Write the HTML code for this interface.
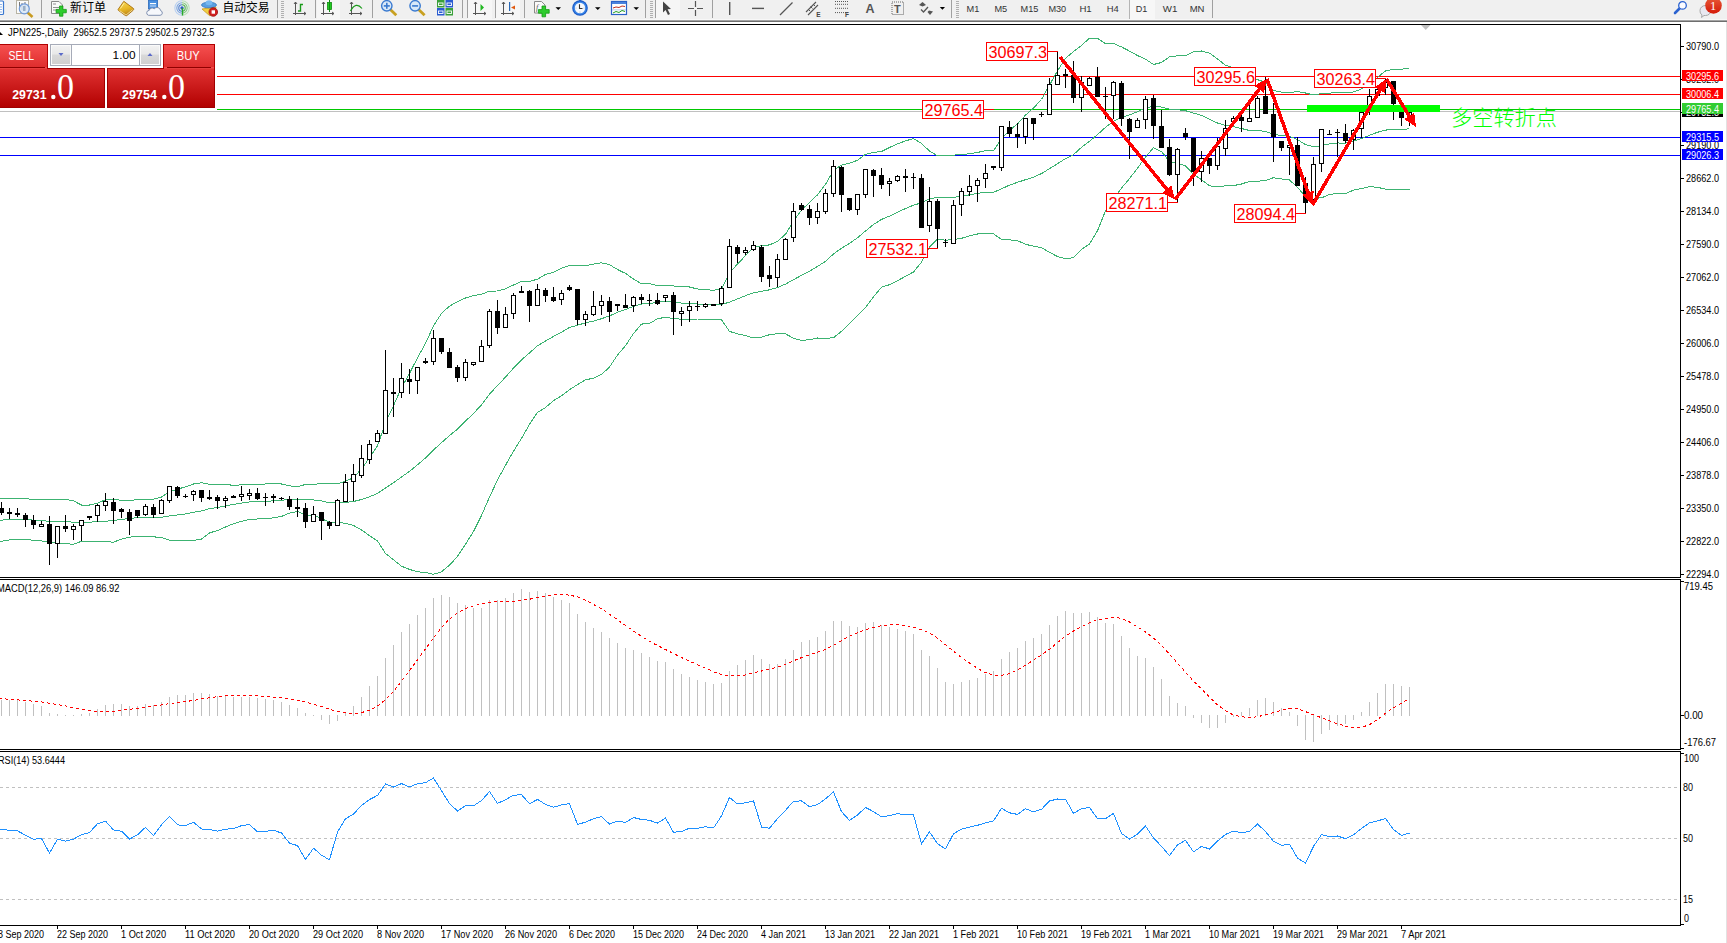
<!DOCTYPE html>
<html><head><meta charset="utf-8"><title>JPN225 Daily</title>
<style>html,body{margin:0;padding:0;background:#fff;overflow:hidden}svg{display:block}text{white-space:pre}</style>
</head><body>
<svg width="1727" height="943" viewBox="0 0 1727 943">
<defs><linearGradient id="gtop" x1="0" y1="0" x2="0" y2="1"><stop offset="0" stop-color="#f65050"/><stop offset="1" stop-color="#dc2a2a"/></linearGradient><linearGradient id="gbot" x1="0" y1="0" x2="0" y2="1"><stop offset="0" stop-color="#e03232"/><stop offset="1" stop-color="#b20000"/></linearGradient><linearGradient id="gbtn" x1="0" y1="0" x2="0" y2="1"><stop offset="0" stop-color="#f2f2f2"/><stop offset="0.45" stop-color="#e8e8e8"/><stop offset="0.5" stop-color="#d9d9d9"/><stop offset="1" stop-color="#d0d0d0"/></linearGradient></defs>
<rect x="0" y="0" width="1727" height="943" fill="#fff"/>
<g shape-rendering="crispEdges">
<rect x="217" y="76" width="1463" height="1" fill="#ff0000"/>
<rect x="217" y="94" width="1463" height="1" fill="#ff0000"/>
<rect x="217" y="109" width="1463" height="1" fill="#00c800"/>
<rect x="0" y="111" width="1680" height="1" fill="#c0c0c0"/>
<rect x="0" y="137" width="1680" height="1" fill="#0000ff"/>
<rect x="0" y="155" width="1680" height="1" fill="#0000ff"/>
<polyline points="-6.5,498.4 1.5,498.5 9.5,498.6 17.5,498.7 25.5,498.8 33.5,499.3 41.5,499.5 49.5,499.1 57.5,499.2 65.5,499.3 73.5,500.9 81.5,505.0 89.5,505.0 97.5,503.1 105.5,499.8 113.5,499.8 121.5,500.1 129.5,500.3 137.5,499.8 145.5,499.2 153.5,499.2 161.5,497.1 169.5,491.6 177.5,489.1 185.5,486.9 193.5,484.0 201.5,482.7 209.5,484.4 217.5,484.3 225.5,484.7 233.5,485.2 241.5,484.9 249.5,484.5 257.5,484.2 265.5,484.0 273.5,483.8 281.5,484.0 289.5,485.8 297.5,486.8 305.5,484.4 313.5,484.6 321.5,483.1 329.5,483.4 337.5,483.9 345.5,481.3 353.5,477.6 361.5,469.0 369.5,457.9 377.5,445.7 385.5,422.6 393.5,405.7 401.5,387.7 409.5,373.4 417.5,357.8 425.5,343.5 433.5,325.7 441.5,313.4 449.5,306.1 457.5,301.7 465.5,298.0 473.5,295.6 481.5,294.3 489.5,291.1 497.5,291.0 505.5,288.8 513.5,285.0 521.5,281.4 529.5,281.4 537.5,279.2 545.5,274.5 553.5,272.2 561.5,268.3 569.5,265.4 577.5,265.7 585.5,265.7 593.5,264.1 601.5,262.8 609.5,264.7 617.5,269.5 625.5,273.4 633.5,279.1 641.5,283.8 649.5,283.5 657.5,285.8 665.5,285.5 673.5,285.9 681.5,286.9 689.5,287.0 697.5,289.0 705.5,289.8 713.5,290.2 721.5,289.0 729.5,273.1 737.5,264.0 745.5,255.7 753.5,247.4 761.5,245.8 769.5,244.9 777.5,241.3 785.5,234.3 793.5,221.1 801.5,210.1 809.5,202.4 817.5,194.9 825.5,184.3 833.5,170.4 841.5,165.1 849.5,163.2 857.5,160.3 865.5,154.3 873.5,152.4 881.5,151.5 889.5,147.5 897.5,143.8 905.5,140.9 913.5,138.5 921.5,143.5 929.5,151.0 937.5,155.7 945.5,155.1 953.5,155.1 961.5,154.5 969.5,153.8 977.5,152.5 985.5,150.6 993.5,150.9 1001.5,138.4 1009.5,130.3 1017.5,123.9 1025.5,115.1 1033.5,108.0 1041.5,99.5 1049.5,85.1 1057.5,70.8 1065.5,58.4 1073.5,51.5 1081.5,45.4 1089.5,38.2 1097.5,38.4 1105.5,43.7 1113.5,43.5 1121.5,46.9 1129.5,51.1 1137.5,55.5 1145.5,59.2 1153.5,64.5 1161.5,62.5 1169.5,56.8 1177.5,55.8 1185.5,55.6 1193.5,51.9 1201.5,51.0 1209.5,53.1 1217.5,58.9 1225.5,65.3 1233.5,67.6 1241.5,73.0 1249.5,79.6 1257.5,79.7 1265.5,82.3 1273.5,90.5 1281.5,92.1 1289.5,92.6 1297.5,91.6 1305.5,93.0 1313.5,95.0 1321.5,93.6 1329.5,93.2 1337.5,92.3 1345.5,92.5 1353.5,92.0 1361.5,88.9 1369.5,83.7 1377.5,77.4 1385.5,70.9 1393.5,69.4 1401.5,69.1 1409.5,68.5" fill="none" stroke="#3cb371" stroke-width="1" />
<polyline points="-6.5,521.0 1.5,520.2 9.5,519.4 17.5,519.2 25.5,519.6 33.5,520.1 41.5,520.7 49.5,521.3 57.5,521.6 65.5,521.8 73.5,522.1 81.5,522.5 89.5,522.1 97.5,521.8 105.5,521.2 113.5,520.5 121.5,519.5 129.5,518.5 137.5,517.6 145.5,517.1 153.5,518.0 161.5,517.3 169.5,516.0 177.5,515.0 185.5,513.9 193.5,512.2 201.5,510.9 209.5,508.7 217.5,507.4 225.5,505.9 233.5,504.4 241.5,503.1 249.5,501.9 257.5,501.6 265.5,501.4 273.5,500.8 281.5,500.2 289.5,499.5 297.5,499.1 305.5,499.9 313.5,499.9 321.5,500.9 329.5,502.8 337.5,503.1 345.5,502.4 353.5,501.5 361.5,499.5 369.5,496.8 377.5,493.4 385.5,488.0 393.5,482.8 401.5,477.0 409.5,471.4 417.5,464.8 425.5,458.0 433.5,450.0 441.5,442.6 449.5,435.6 457.5,429.1 465.5,421.1 473.5,413.5 481.5,404.8 489.5,394.1 497.5,385.5 505.5,377.1 513.5,368.1 521.5,359.8 529.5,352.9 537.5,345.7 545.5,341.0 553.5,336.4 561.5,332.1 569.5,327.5 577.5,325.2 585.5,322.8 593.5,321.2 601.5,318.7 609.5,315.9 617.5,312.3 625.5,309.6 633.5,306.3 641.5,304.0 649.5,303.5 657.5,302.3 665.5,301.3 673.5,302.2 681.5,303.1 689.5,303.2 697.5,304.0 705.5,304.4 713.5,304.6 721.5,304.4 729.5,302.2 737.5,298.9 745.5,295.7 753.5,292.7 761.5,291.4 769.5,289.8 777.5,287.5 785.5,284.1 793.5,279.7 801.5,275.3 809.5,271.1 817.5,266.5 825.5,261.3 833.5,254.0 841.5,248.2 849.5,243.4 857.5,237.8 865.5,231.0 873.5,224.5 881.5,219.4 889.5,216.1 897.5,212.2 905.5,208.6 913.5,205.2 921.5,202.8 929.5,198.9 937.5,197.4 945.5,197.6 953.5,197.3 961.5,196.4 969.5,194.8 977.5,193.3 985.5,192.3 993.5,192.3 1001.5,188.9 1009.5,185.1 1017.5,182.3 1025.5,179.7 1033.5,177.1 1041.5,173.6 1049.5,168.7 1057.5,163.7 1065.5,158.6 1073.5,154.6 1081.5,147.3 1089.5,141.2 1097.5,134.6 1105.5,127.3 1113.5,121.1 1121.5,117.5 1129.5,114.8 1137.5,111.8 1145.5,108.1 1153.5,106.0 1161.5,107.1 1169.5,109.1 1177.5,109.7 1185.5,110.7 1193.5,113.1 1201.5,115.3 1209.5,119.4 1217.5,123.0 1225.5,125.6 1233.5,126.6 1241.5,128.5 1249.5,130.5 1257.5,130.5 1265.5,131.4 1273.5,134.1 1281.5,135.6 1289.5,136.3 1297.5,139.5 1305.5,144.7 1313.5,146.6 1321.5,145.7 1329.5,143.8 1337.5,143.0 1345.5,143.1 1353.5,141.0 1361.5,138.7 1369.5,135.2 1377.5,132.3 1385.5,130.1 1393.5,129.4 1401.5,129.2 1409.5,128.9" fill="none" stroke="#3cb371" stroke-width="1" />
<polyline points="-6.5,542.7 1.5,541.3 9.5,540.0 17.5,539.8 25.5,539.8 33.5,540.1 41.5,541.0 49.5,541.9 57.5,542.7 65.5,543.9 73.5,544.1 81.5,541.3 89.5,541.4 97.5,541.5 105.5,541.8 113.5,542.1 121.5,539.2 129.5,537.2 137.5,536.4 145.5,536.6 153.5,536.8 161.5,537.6 169.5,540.3 177.5,540.9 185.5,540.8 193.5,540.4 201.5,539.1 209.5,532.9 217.5,530.5 225.5,527.0 233.5,523.7 241.5,521.4 249.5,519.3 257.5,519.0 265.5,518.9 273.5,517.8 281.5,516.4 289.5,513.1 297.5,511.4 305.5,515.4 313.5,515.1 321.5,518.6 329.5,522.3 337.5,522.3 345.5,523.4 353.5,525.5 361.5,530.0 369.5,535.6 377.5,541.0 385.5,553.4 393.5,559.8 401.5,566.2 409.5,569.4 417.5,571.8 425.5,572.5 433.5,574.3 441.5,571.8 449.5,565.2 457.5,556.4 465.5,544.2 473.5,531.5 481.5,515.4 489.5,497.1 497.5,479.9 505.5,465.3 513.5,451.2 521.5,438.3 529.5,424.4 537.5,412.3 545.5,407.6 553.5,400.6 561.5,395.9 569.5,389.7 577.5,384.6 585.5,379.8 593.5,378.2 601.5,374.5 609.5,367.1 617.5,355.1 625.5,345.7 633.5,333.5 641.5,324.1 649.5,323.4 657.5,318.8 665.5,317.2 673.5,318.5 681.5,319.3 689.5,319.4 697.5,319.0 705.5,319.0 713.5,319.1 721.5,319.8 729.5,331.4 737.5,333.8 745.5,335.7 753.5,338.0 761.5,337.1 769.5,334.7 777.5,333.7 785.5,333.8 793.5,338.3 801.5,340.4 809.5,339.7 817.5,338.0 825.5,338.4 833.5,337.7 841.5,331.3 849.5,323.6 857.5,315.3 865.5,307.7 873.5,296.7 881.5,287.2 889.5,284.7 897.5,280.7 905.5,276.3 913.5,272.0 921.5,262.1 929.5,246.9 937.5,239.2 945.5,240.2 953.5,239.6 961.5,238.3 969.5,235.8 977.5,234.0 985.5,233.9 993.5,233.8 1001.5,239.4 1009.5,239.9 1017.5,240.7 1025.5,244.3 1033.5,246.2 1041.5,247.7 1049.5,252.3 1057.5,256.6 1065.5,258.8 1073.5,257.7 1081.5,249.2 1089.5,244.1 1097.5,230.8 1105.5,210.8 1113.5,198.7 1121.5,188.1 1129.5,178.6 1137.5,168.2 1145.5,157.1 1153.5,147.6 1161.5,151.6 1169.5,161.4 1177.5,163.6 1185.5,165.8 1193.5,174.3 1201.5,179.6 1209.5,185.7 1217.5,187.0 1225.5,185.8 1233.5,185.6 1241.5,184.0 1249.5,181.4 1257.5,181.3 1265.5,180.4 1273.5,177.7 1281.5,179.0 1289.5,179.9 1297.5,187.5 1305.5,196.4 1313.5,198.2 1321.5,197.9 1329.5,194.3 1337.5,193.6 1345.5,193.7 1353.5,190.1 1361.5,188.6 1369.5,186.7 1377.5,187.3 1385.5,189.2 1393.5,189.4 1401.5,189.3 1409.5,189.3" fill="none" stroke="#3cb371" stroke-width="1" />
<rect x="1" y="502" width="1" height="13" fill="#000"/>
<rect x="-1" y="508" width="5" height="5" fill="#000"/>
<rect x="9" y="508" width="1" height="11" fill="#000"/>
<rect x="7" y="512" width="5" height="2" fill="#000"/>
<rect x="17" y="508" width="1" height="9" fill="#000"/>
<rect x="15" y="513" width="5" height="2" fill="#000"/>
<rect x="25" y="513" width="1" height="14" fill="#000"/>
<rect x="23" y="515" width="5" height="5" fill="#000"/>
<rect x="33" y="515" width="1" height="14" fill="#000"/>
<rect x="31" y="520" width="5" height="5" fill="#000"/>
<rect x="41" y="521" width="1" height="5" fill="#000"/>
<rect x="39" y="524" width="5" height="3" fill="#000"/>
<rect x="40" y="525" width="3" height="1" fill="#fff"/>
<rect x="49" y="516" width="1" height="49" fill="#000"/>
<rect x="47" y="524" width="5" height="20" fill="#000"/>
<rect x="57" y="526" width="1" height="32" fill="#000"/>
<rect x="55" y="526" width="5" height="18" fill="#000"/>
<rect x="56" y="527" width="3" height="16" fill="#fff"/>
<rect x="65" y="515" width="1" height="17" fill="#000"/>
<rect x="63" y="526" width="5" height="3" fill="#000"/>
<rect x="73" y="524" width="1" height="16" fill="#000"/>
<rect x="71" y="526" width="5" height="4" fill="#000"/>
<rect x="72" y="527" width="3" height="2" fill="#fff"/>
<rect x="81" y="520" width="1" height="21" fill="#000"/>
<rect x="79" y="520" width="5" height="6" fill="#000"/>
<rect x="80" y="521" width="3" height="4" fill="#fff"/>
<rect x="89" y="516" width="1" height="4" fill="#000"/>
<rect x="87" y="516" width="5" height="2" fill="#000"/>
<rect x="97" y="504" width="1" height="18" fill="#000"/>
<rect x="95" y="505" width="5" height="11" fill="#000"/>
<rect x="96" y="506" width="3" height="9" fill="#fff"/>
<rect x="105" y="493" width="1" height="18" fill="#000"/>
<rect x="103" y="501" width="5" height="5" fill="#000"/>
<rect x="104" y="502" width="3" height="3" fill="#fff"/>
<rect x="113" y="498" width="1" height="26" fill="#000"/>
<rect x="111" y="502" width="5" height="9" fill="#000"/>
<rect x="121" y="508" width="1" height="10" fill="#000"/>
<rect x="119" y="509" width="5" height="3" fill="#000"/>
<rect x="129" y="509" width="1" height="26" fill="#000"/>
<rect x="127" y="512" width="5" height="9" fill="#000"/>
<rect x="137" y="510" width="1" height="8" fill="#000"/>
<rect x="135" y="510" width="5" height="6" fill="#000"/>
<rect x="145" y="504" width="1" height="12" fill="#000"/>
<rect x="143" y="506" width="5" height="9" fill="#000"/>
<rect x="144" y="507" width="3" height="7" fill="#fff"/>
<rect x="153" y="504" width="1" height="14" fill="#000"/>
<rect x="151" y="507" width="5" height="8" fill="#000"/>
<rect x="161" y="499" width="1" height="15" fill="#000"/>
<rect x="159" y="500" width="5" height="14" fill="#000"/>
<rect x="160" y="501" width="3" height="12" fill="#fff"/>
<rect x="169" y="486" width="1" height="17" fill="#000"/>
<rect x="167" y="486" width="5" height="15" fill="#000"/>
<rect x="168" y="487" width="3" height="13" fill="#fff"/>
<rect x="177" y="486" width="1" height="12" fill="#000"/>
<rect x="175" y="487" width="5" height="9" fill="#000"/>
<rect x="185" y="494" width="1" height="4" fill="#000"/>
<rect x="183" y="496" width="5" height="1" fill="#000"/>
<rect x="193" y="490" width="1" height="11" fill="#000"/>
<rect x="191" y="491" width="5" height="4" fill="#000"/>
<rect x="192" y="492" width="3" height="2" fill="#fff"/>
<rect x="201" y="490" width="1" height="12" fill="#000"/>
<rect x="199" y="490" width="5" height="8" fill="#000"/>
<rect x="209" y="490" width="1" height="10" fill="#000"/>
<rect x="207" y="497" width="5" height="2" fill="#000"/>
<rect x="217" y="495" width="1" height="14" fill="#000"/>
<rect x="215" y="497" width="5" height="4" fill="#000"/>
<rect x="225" y="496" width="1" height="12" fill="#000"/>
<rect x="223" y="498" width="5" height="3" fill="#000"/>
<rect x="224" y="499" width="3" height="1" fill="#fff"/>
<rect x="233" y="495" width="1" height="3" fill="#000"/>
<rect x="231" y="496" width="5" height="2" fill="#000"/>
<rect x="241" y="486" width="1" height="15" fill="#000"/>
<rect x="239" y="494" width="5" height="3" fill="#000"/>
<rect x="240" y="495" width="3" height="1" fill="#fff"/>
<rect x="249" y="489" width="1" height="11" fill="#000"/>
<rect x="247" y="493" width="5" height="3" fill="#000"/>
<rect x="248" y="494" width="3" height="1" fill="#fff"/>
<rect x="257" y="488" width="1" height="12" fill="#000"/>
<rect x="255" y="493" width="5" height="6" fill="#000"/>
<rect x="265" y="493" width="1" height="13" fill="#000"/>
<rect x="263" y="497" width="5" height="1" fill="#000"/>
<rect x="273" y="494" width="1" height="9" fill="#000"/>
<rect x="271" y="496" width="5" height="2" fill="#000"/>
<rect x="281" y="497" width="1" height="3" fill="#000"/>
<rect x="279" y="498" width="5" height="1" fill="#000"/>
<rect x="289" y="496" width="1" height="14" fill="#000"/>
<rect x="287" y="499" width="5" height="8" fill="#000"/>
<rect x="297" y="498" width="1" height="19" fill="#000"/>
<rect x="295" y="507" width="5" height="2" fill="#000"/>
<rect x="305" y="503" width="1" height="25" fill="#000"/>
<rect x="303" y="508" width="5" height="14" fill="#000"/>
<rect x="313" y="506" width="1" height="16" fill="#000"/>
<rect x="311" y="514" width="5" height="8" fill="#000"/>
<rect x="312" y="515" width="3" height="6" fill="#fff"/>
<rect x="321" y="512" width="1" height="28" fill="#000"/>
<rect x="319" y="512" width="5" height="9" fill="#000"/>
<rect x="329" y="521" width="1" height="8" fill="#000"/>
<rect x="327" y="522" width="5" height="4" fill="#000"/>
<rect x="337" y="499" width="1" height="27" fill="#000"/>
<rect x="335" y="500" width="5" height="26" fill="#000"/>
<rect x="336" y="501" width="3" height="24" fill="#fff"/>
<rect x="345" y="474" width="1" height="28" fill="#000"/>
<rect x="343" y="482" width="5" height="20" fill="#000"/>
<rect x="344" y="483" width="3" height="18" fill="#fff"/>
<rect x="353" y="464" width="1" height="37" fill="#000"/>
<rect x="351" y="474" width="5" height="8" fill="#000"/>
<rect x="352" y="475" width="3" height="6" fill="#fff"/>
<rect x="361" y="445" width="1" height="33" fill="#000"/>
<rect x="359" y="458" width="5" height="18" fill="#000"/>
<rect x="360" y="459" width="3" height="16" fill="#fff"/>
<rect x="369" y="440" width="1" height="24" fill="#000"/>
<rect x="367" y="444" width="5" height="16" fill="#000"/>
<rect x="368" y="445" width="3" height="14" fill="#fff"/>
<rect x="377" y="430" width="1" height="12" fill="#000"/>
<rect x="375" y="433" width="5" height="9" fill="#000"/>
<rect x="376" y="434" width="3" height="7" fill="#fff"/>
<rect x="385" y="350" width="1" height="84" fill="#000"/>
<rect x="383" y="390" width="5" height="44" fill="#000"/>
<rect x="384" y="391" width="3" height="42" fill="#fff"/>
<rect x="393" y="378" width="1" height="39" fill="#000"/>
<rect x="391" y="392" width="5" height="2" fill="#000"/>
<rect x="401" y="363" width="1" height="35" fill="#000"/>
<rect x="399" y="378" width="5" height="15" fill="#000"/>
<rect x="400" y="379" width="3" height="13" fill="#fff"/>
<rect x="409" y="369" width="1" height="25" fill="#000"/>
<rect x="407" y="379" width="5" height="3" fill="#000"/>
<rect x="417" y="367" width="1" height="27" fill="#000"/>
<rect x="415" y="367" width="5" height="14" fill="#000"/>
<rect x="416" y="368" width="3" height="12" fill="#fff"/>
<rect x="425" y="358" width="1" height="6" fill="#000"/>
<rect x="423" y="361" width="5" height="2" fill="#000"/>
<rect x="433" y="330" width="1" height="35" fill="#000"/>
<rect x="431" y="338" width="5" height="24" fill="#000"/>
<rect x="432" y="339" width="3" height="22" fill="#fff"/>
<rect x="441" y="338" width="1" height="16" fill="#000"/>
<rect x="439" y="338" width="5" height="14" fill="#000"/>
<rect x="449" y="348" width="1" height="20" fill="#000"/>
<rect x="447" y="352" width="5" height="16" fill="#000"/>
<rect x="457" y="365" width="1" height="17" fill="#000"/>
<rect x="455" y="367" width="5" height="11" fill="#000"/>
<rect x="465" y="359" width="1" height="22" fill="#000"/>
<rect x="463" y="362" width="5" height="16" fill="#000"/>
<rect x="464" y="363" width="3" height="14" fill="#fff"/>
<rect x="473" y="362" width="1" height="4" fill="#000"/>
<rect x="471" y="362" width="5" height="3" fill="#000"/>
<rect x="472" y="363" width="3" height="1" fill="#fff"/>
<rect x="481" y="340" width="1" height="22" fill="#000"/>
<rect x="479" y="346" width="5" height="16" fill="#000"/>
<rect x="480" y="347" width="3" height="14" fill="#fff"/>
<rect x="489" y="309" width="1" height="39" fill="#000"/>
<rect x="487" y="311" width="5" height="35" fill="#000"/>
<rect x="488" y="312" width="3" height="33" fill="#fff"/>
<rect x="497" y="300" width="1" height="34" fill="#000"/>
<rect x="495" y="311" width="5" height="17" fill="#000"/>
<rect x="505" y="307" width="1" height="21" fill="#000"/>
<rect x="503" y="314" width="5" height="14" fill="#000"/>
<rect x="504" y="315" width="3" height="12" fill="#fff"/>
<rect x="513" y="293" width="1" height="26" fill="#000"/>
<rect x="511" y="295" width="5" height="19" fill="#000"/>
<rect x="512" y="296" width="3" height="17" fill="#fff"/>
<rect x="521" y="286" width="1" height="7" fill="#000"/>
<rect x="519" y="291" width="5" height="2" fill="#000"/>
<rect x="529" y="290" width="1" height="32" fill="#000"/>
<rect x="527" y="291" width="5" height="15" fill="#000"/>
<rect x="537" y="284" width="1" height="22" fill="#000"/>
<rect x="535" y="289" width="5" height="17" fill="#000"/>
<rect x="536" y="290" width="3" height="15" fill="#fff"/>
<rect x="545" y="288" width="1" height="14" fill="#000"/>
<rect x="543" y="290" width="5" height="6" fill="#000"/>
<rect x="553" y="287" width="1" height="15" fill="#000"/>
<rect x="551" y="297" width="5" height="4" fill="#000"/>
<rect x="561" y="290" width="1" height="15" fill="#000"/>
<rect x="559" y="293" width="5" height="7" fill="#000"/>
<rect x="560" y="294" width="3" height="5" fill="#fff"/>
<rect x="569" y="285" width="1" height="6" fill="#000"/>
<rect x="567" y="287" width="5" height="3" fill="#000"/>
<rect x="577" y="289" width="1" height="36" fill="#000"/>
<rect x="575" y="289" width="5" height="31" fill="#000"/>
<rect x="585" y="311" width="1" height="15" fill="#000"/>
<rect x="583" y="314" width="5" height="6" fill="#000"/>
<rect x="584" y="315" width="3" height="4" fill="#fff"/>
<rect x="593" y="291" width="1" height="25" fill="#000"/>
<rect x="591" y="306" width="5" height="9" fill="#000"/>
<rect x="592" y="307" width="3" height="7" fill="#fff"/>
<rect x="601" y="295" width="1" height="20" fill="#000"/>
<rect x="599" y="301" width="5" height="5" fill="#000"/>
<rect x="600" y="302" width="3" height="3" fill="#fff"/>
<rect x="609" y="297" width="1" height="25" fill="#000"/>
<rect x="607" y="301" width="5" height="11" fill="#000"/>
<rect x="617" y="304" width="1" height="7" fill="#000"/>
<rect x="615" y="304" width="5" height="2" fill="#000"/>
<rect x="625" y="294" width="1" height="14" fill="#000"/>
<rect x="623" y="305" width="5" height="3" fill="#000"/>
<rect x="633" y="296" width="1" height="16" fill="#000"/>
<rect x="631" y="297" width="5" height="9" fill="#000"/>
<rect x="632" y="298" width="3" height="7" fill="#fff"/>
<rect x="641" y="294" width="1" height="10" fill="#000"/>
<rect x="639" y="297" width="5" height="3" fill="#000"/>
<rect x="649" y="294" width="1" height="12" fill="#000"/>
<rect x="647" y="300" width="5" height="1" fill="#000"/>
<rect x="657" y="293" width="1" height="12" fill="#000"/>
<rect x="655" y="300" width="5" height="4" fill="#000"/>
<rect x="665" y="295" width="1" height="7" fill="#000"/>
<rect x="663" y="295" width="5" height="3" fill="#000"/>
<rect x="664" y="296" width="3" height="1" fill="#fff"/>
<rect x="673" y="292" width="1" height="43" fill="#000"/>
<rect x="671" y="295" width="5" height="17" fill="#000"/>
<rect x="681" y="307" width="1" height="19" fill="#000"/>
<rect x="679" y="311" width="5" height="3" fill="#000"/>
<rect x="680" y="312" width="3" height="1" fill="#fff"/>
<rect x="689" y="301" width="1" height="21" fill="#000"/>
<rect x="687" y="306" width="5" height="5" fill="#000"/>
<rect x="688" y="307" width="3" height="3" fill="#fff"/>
<rect x="697" y="301" width="1" height="10" fill="#000"/>
<rect x="695" y="306" width="5" height="1" fill="#000"/>
<rect x="705" y="303" width="1" height="5" fill="#000"/>
<rect x="703" y="304" width="5" height="3" fill="#000"/>
<rect x="704" y="305" width="3" height="1" fill="#fff"/>
<rect x="713" y="304" width="1" height="2" fill="#000"/>
<rect x="711" y="304" width="5" height="2" fill="#000"/>
<rect x="721" y="286" width="1" height="20" fill="#000"/>
<rect x="719" y="288" width="5" height="16" fill="#000"/>
<rect x="720" y="289" width="3" height="14" fill="#fff"/>
<rect x="729" y="239" width="1" height="49" fill="#000"/>
<rect x="727" y="246" width="5" height="42" fill="#000"/>
<rect x="728" y="247" width="3" height="40" fill="#fff"/>
<rect x="737" y="245" width="1" height="18" fill="#000"/>
<rect x="735" y="247" width="5" height="7" fill="#000"/>
<rect x="745" y="247" width="1" height="8" fill="#000"/>
<rect x="743" y="250" width="5" height="3" fill="#000"/>
<rect x="744" y="251" width="3" height="1" fill="#fff"/>
<rect x="753" y="241" width="1" height="10" fill="#000"/>
<rect x="751" y="245" width="5" height="5" fill="#000"/>
<rect x="752" y="246" width="3" height="3" fill="#fff"/>
<rect x="761" y="245" width="1" height="37" fill="#000"/>
<rect x="759" y="247" width="5" height="30" fill="#000"/>
<rect x="769" y="266" width="1" height="21" fill="#000"/>
<rect x="767" y="275" width="5" height="4" fill="#000"/>
<rect x="777" y="254" width="1" height="33" fill="#000"/>
<rect x="775" y="259" width="5" height="19" fill="#000"/>
<rect x="776" y="260" width="3" height="17" fill="#fff"/>
<rect x="785" y="238" width="1" height="22" fill="#000"/>
<rect x="783" y="239" width="5" height="21" fill="#000"/>
<rect x="784" y="240" width="3" height="19" fill="#fff"/>
<rect x="793" y="203" width="1" height="39" fill="#000"/>
<rect x="791" y="211" width="5" height="27" fill="#000"/>
<rect x="792" y="212" width="3" height="25" fill="#fff"/>
<rect x="801" y="203" width="1" height="8" fill="#000"/>
<rect x="799" y="205" width="5" height="5" fill="#000"/>
<rect x="809" y="205" width="1" height="20" fill="#000"/>
<rect x="807" y="209" width="5" height="9" fill="#000"/>
<rect x="817" y="203" width="1" height="21" fill="#000"/>
<rect x="815" y="211" width="5" height="7" fill="#000"/>
<rect x="816" y="212" width="3" height="5" fill="#fff"/>
<rect x="825" y="189" width="1" height="25" fill="#000"/>
<rect x="823" y="193" width="5" height="19" fill="#000"/>
<rect x="824" y="194" width="3" height="17" fill="#fff"/>
<rect x="833" y="160" width="1" height="37" fill="#000"/>
<rect x="831" y="166" width="5" height="28" fill="#000"/>
<rect x="832" y="167" width="3" height="26" fill="#fff"/>
<rect x="841" y="166" width="1" height="46" fill="#000"/>
<rect x="839" y="167" width="5" height="28" fill="#000"/>
<rect x="849" y="198" width="1" height="13" fill="#000"/>
<rect x="847" y="198" width="5" height="12" fill="#000"/>
<rect x="857" y="194" width="1" height="21" fill="#000"/>
<rect x="855" y="194" width="5" height="16" fill="#000"/>
<rect x="856" y="195" width="3" height="14" fill="#fff"/>
<rect x="865" y="169" width="1" height="29" fill="#000"/>
<rect x="863" y="169" width="5" height="26" fill="#000"/>
<rect x="864" y="170" width="3" height="24" fill="#fff"/>
<rect x="873" y="169" width="1" height="28" fill="#000"/>
<rect x="871" y="170" width="5" height="6" fill="#000"/>
<rect x="881" y="168" width="1" height="21" fill="#000"/>
<rect x="879" y="175" width="5" height="10" fill="#000"/>
<rect x="889" y="178" width="1" height="18" fill="#000"/>
<rect x="887" y="181" width="5" height="3" fill="#000"/>
<rect x="888" y="182" width="3" height="1" fill="#fff"/>
<rect x="897" y="175" width="1" height="7" fill="#000"/>
<rect x="895" y="176" width="5" height="5" fill="#000"/>
<rect x="896" y="177" width="3" height="3" fill="#fff"/>
<rect x="905" y="169" width="1" height="23" fill="#000"/>
<rect x="903" y="176" width="5" height="2" fill="#000"/>
<rect x="913" y="173" width="1" height="16" fill="#000"/>
<rect x="911" y="177" width="5" height="1" fill="#000"/>
<rect x="921" y="174" width="1" height="54" fill="#000"/>
<rect x="919" y="178" width="5" height="50" fill="#000"/>
<rect x="929" y="187" width="1" height="45" fill="#000"/>
<rect x="927" y="201" width="5" height="25" fill="#000"/>
<rect x="928" y="202" width="3" height="23" fill="#fff"/>
<rect x="937" y="199" width="1" height="49" fill="#000"/>
<rect x="935" y="201" width="5" height="28" fill="#000"/>
<rect x="945" y="239" width="1" height="8" fill="#000"/>
<rect x="943" y="242" width="5" height="1" fill="#000"/>
<rect x="953" y="200" width="1" height="44" fill="#000"/>
<rect x="951" y="205" width="5" height="39" fill="#000"/>
<rect x="952" y="206" width="3" height="37" fill="#fff"/>
<rect x="961" y="188" width="1" height="28" fill="#000"/>
<rect x="959" y="191" width="5" height="14" fill="#000"/>
<rect x="960" y="192" width="3" height="12" fill="#fff"/>
<rect x="969" y="175" width="1" height="21" fill="#000"/>
<rect x="967" y="186" width="5" height="6" fill="#000"/>
<rect x="968" y="187" width="3" height="4" fill="#fff"/>
<rect x="977" y="178" width="1" height="24" fill="#000"/>
<rect x="975" y="180" width="5" height="6" fill="#000"/>
<rect x="976" y="181" width="3" height="4" fill="#fff"/>
<rect x="985" y="164" width="1" height="24" fill="#000"/>
<rect x="983" y="173" width="5" height="6" fill="#000"/>
<rect x="984" y="174" width="3" height="4" fill="#fff"/>
<rect x="993" y="166" width="1" height="4" fill="#000"/>
<rect x="991" y="166" width="5" height="2" fill="#000"/>
<rect x="1001" y="126" width="1" height="45" fill="#000"/>
<rect x="999" y="126" width="5" height="42" fill="#000"/>
<rect x="1000" y="127" width="3" height="40" fill="#fff"/>
<rect x="1009" y="121" width="1" height="16" fill="#000"/>
<rect x="1007" y="127" width="5" height="7" fill="#000"/>
<rect x="1017" y="123" width="1" height="25" fill="#000"/>
<rect x="1015" y="134" width="5" height="3" fill="#000"/>
<rect x="1025" y="118" width="1" height="26" fill="#000"/>
<rect x="1023" y="118" width="5" height="19" fill="#000"/>
<rect x="1024" y="119" width="3" height="17" fill="#fff"/>
<rect x="1033" y="118" width="1" height="22" fill="#000"/>
<rect x="1031" y="118" width="5" height="6" fill="#000"/>
<rect x="1041" y="112" width="1" height="5" fill="#000"/>
<rect x="1039" y="114" width="5" height="1" fill="#000"/>
<rect x="1049" y="78" width="1" height="37" fill="#000"/>
<rect x="1047" y="84" width="5" height="31" fill="#000"/>
<rect x="1048" y="85" width="3" height="29" fill="#fff"/>
<rect x="1057" y="51" width="1" height="34" fill="#000"/>
<rect x="1055" y="75" width="5" height="10" fill="#000"/>
<rect x="1056" y="76" width="3" height="8" fill="#fff"/>
<rect x="1065" y="69" width="1" height="19" fill="#000"/>
<rect x="1063" y="74" width="5" height="2" fill="#000"/>
<rect x="1073" y="61" width="1" height="42" fill="#000"/>
<rect x="1071" y="75" width="5" height="23" fill="#000"/>
<rect x="1081" y="76" width="1" height="36" fill="#000"/>
<rect x="1079" y="82" width="5" height="16" fill="#000"/>
<rect x="1080" y="83" width="3" height="14" fill="#fff"/>
<rect x="1089" y="77" width="1" height="9" fill="#000"/>
<rect x="1087" y="78" width="5" height="8" fill="#000"/>
<rect x="1088" y="79" width="3" height="6" fill="#fff"/>
<rect x="1097" y="67" width="1" height="30" fill="#000"/>
<rect x="1095" y="77" width="5" height="20" fill="#000"/>
<rect x="1105" y="87" width="1" height="32" fill="#000"/>
<rect x="1103" y="96" width="5" height="1" fill="#000"/>
<rect x="1113" y="81" width="1" height="38" fill="#000"/>
<rect x="1111" y="82" width="5" height="14" fill="#000"/>
<rect x="1112" y="83" width="3" height="12" fill="#fff"/>
<rect x="1121" y="81" width="1" height="45" fill="#000"/>
<rect x="1119" y="83" width="5" height="36" fill="#000"/>
<rect x="1129" y="118" width="1" height="41" fill="#000"/>
<rect x="1127" y="119" width="5" height="13" fill="#000"/>
<rect x="1137" y="118" width="1" height="10" fill="#000"/>
<rect x="1135" y="120" width="5" height="8" fill="#000"/>
<rect x="1136" y="121" width="3" height="6" fill="#fff"/>
<rect x="1145" y="96" width="1" height="33" fill="#000"/>
<rect x="1143" y="99" width="5" height="21" fill="#000"/>
<rect x="1144" y="100" width="3" height="19" fill="#fff"/>
<rect x="1153" y="95" width="1" height="44" fill="#000"/>
<rect x="1151" y="98" width="5" height="28" fill="#000"/>
<rect x="1161" y="110" width="1" height="38" fill="#000"/>
<rect x="1159" y="126" width="5" height="22" fill="#000"/>
<rect x="1169" y="139" width="1" height="37" fill="#000"/>
<rect x="1167" y="147" width="5" height="28" fill="#000"/>
<rect x="1177" y="148" width="1" height="54" fill="#000"/>
<rect x="1175" y="149" width="5" height="26" fill="#000"/>
<rect x="1176" y="150" width="3" height="24" fill="#fff"/>
<rect x="1185" y="128" width="1" height="12" fill="#000"/>
<rect x="1183" y="133" width="5" height="4" fill="#000"/>
<rect x="1193" y="138" width="1" height="48" fill="#000"/>
<rect x="1191" y="138" width="5" height="34" fill="#000"/>
<rect x="1201" y="151" width="1" height="31" fill="#000"/>
<rect x="1199" y="158" width="5" height="14" fill="#000"/>
<rect x="1200" y="159" width="3" height="12" fill="#fff"/>
<rect x="1209" y="158" width="1" height="16" fill="#000"/>
<rect x="1207" y="158" width="5" height="8" fill="#000"/>
<rect x="1217" y="138" width="1" height="32" fill="#000"/>
<rect x="1215" y="146" width="5" height="20" fill="#000"/>
<rect x="1216" y="147" width="3" height="18" fill="#fff"/>
<rect x="1225" y="120" width="1" height="36" fill="#000"/>
<rect x="1223" y="128" width="5" height="21" fill="#000"/>
<rect x="1224" y="129" width="3" height="19" fill="#fff"/>
<rect x="1233" y="116" width="1" height="6" fill="#000"/>
<rect x="1231" y="118" width="5" height="4" fill="#000"/>
<rect x="1232" y="119" width="3" height="2" fill="#fff"/>
<rect x="1241" y="113" width="1" height="19" fill="#000"/>
<rect x="1239" y="117" width="5" height="4" fill="#000"/>
<rect x="1249" y="104" width="1" height="18" fill="#000"/>
<rect x="1247" y="118" width="5" height="4" fill="#000"/>
<rect x="1248" y="119" width="3" height="2" fill="#fff"/>
<rect x="1257" y="96" width="1" height="22" fill="#000"/>
<rect x="1255" y="98" width="5" height="20" fill="#000"/>
<rect x="1256" y="99" width="3" height="18" fill="#fff"/>
<rect x="1265" y="76" width="1" height="38" fill="#000"/>
<rect x="1263" y="96" width="5" height="18" fill="#000"/>
<rect x="1273" y="103" width="1" height="59" fill="#000"/>
<rect x="1271" y="114" width="5" height="23" fill="#000"/>
<rect x="1281" y="141" width="1" height="10" fill="#000"/>
<rect x="1279" y="141" width="5" height="7" fill="#000"/>
<rect x="1289" y="145" width="1" height="30" fill="#000"/>
<rect x="1287" y="145" width="5" height="3" fill="#000"/>
<rect x="1288" y="146" width="3" height="1" fill="#fff"/>
<rect x="1297" y="137" width="1" height="49" fill="#000"/>
<rect x="1295" y="145" width="5" height="41" fill="#000"/>
<rect x="1305" y="177" width="1" height="37" fill="#000"/>
<rect x="1303" y="183" width="5" height="20" fill="#000"/>
<rect x="1313" y="157" width="1" height="46" fill="#000"/>
<rect x="1311" y="164" width="5" height="36" fill="#000"/>
<rect x="1312" y="165" width="3" height="34" fill="#fff"/>
<rect x="1321" y="129" width="1" height="43" fill="#000"/>
<rect x="1319" y="129" width="5" height="35" fill="#000"/>
<rect x="1320" y="130" width="3" height="33" fill="#fff"/>
<rect x="1329" y="130" width="1" height="5" fill="#000"/>
<rect x="1327" y="134" width="5" height="1" fill="#000"/>
<rect x="1337" y="129" width="1" height="28" fill="#000"/>
<rect x="1335" y="132" width="5" height="1" fill="#000"/>
<rect x="1345" y="124" width="1" height="19" fill="#000"/>
<rect x="1343" y="133" width="5" height="8" fill="#000"/>
<rect x="1353" y="129" width="1" height="21" fill="#000"/>
<rect x="1351" y="130" width="5" height="10" fill="#000"/>
<rect x="1352" y="131" width="3" height="8" fill="#fff"/>
<rect x="1361" y="112" width="1" height="26" fill="#000"/>
<rect x="1359" y="112" width="5" height="17" fill="#000"/>
<rect x="1360" y="113" width="3" height="15" fill="#fff"/>
<rect x="1369" y="89" width="1" height="26" fill="#000"/>
<rect x="1367" y="96" width="5" height="14" fill="#000"/>
<rect x="1368" y="97" width="3" height="12" fill="#fff"/>
<rect x="1377" y="87" width="1" height="9" fill="#000"/>
<rect x="1375" y="89" width="5" height="7" fill="#000"/>
<rect x="1376" y="90" width="3" height="5" fill="#fff"/>
<rect x="1385" y="79" width="1" height="16" fill="#000"/>
<rect x="1383" y="82" width="5" height="6" fill="#000"/>
<rect x="1384" y="83" width="3" height="4" fill="#fff"/>
<rect x="1393" y="81" width="1" height="39" fill="#000"/>
<rect x="1391" y="81" width="5" height="23" fill="#000"/>
<rect x="1401" y="108" width="1" height="18" fill="#000"/>
<rect x="1399" y="112" width="5" height="6" fill="#000"/>
<rect x="1409" y="112" width="1" height="14" fill="#000"/>
<rect x="1407" y="112" width="5" height="5" fill="#000"/>
<rect x="1408" y="113" width="3" height="3" fill="#fff"/>
</g>
<g font-family='"Liberation Sans", sans-serif'>
<rect x="1048" y="51" width="10" height="1" fill="#ff0000" shape-rendering="crispEdges"/>
<rect x="986.5" y="42.5" width="61" height="18" fill="#fff" stroke="#ff0000" stroke-width="1" shape-rendering="crispEdges"/>
<text x="988.5" y="58" font-size="16" fill="#ff0000" textLength="58.5" lengthAdjust="spacingAndGlyphs">30697.3</text>
<rect x="984" y="109" width="10" height="1" fill="#ff0000" shape-rendering="crispEdges"/>
<rect x="922.5" y="100.5" width="61" height="18" fill="#fff" stroke="#ff0000" stroke-width="1" shape-rendering="crispEdges"/>
<text x="924.5" y="116" font-size="16" fill="#ff0000" textLength="58.5" lengthAdjust="spacingAndGlyphs">29765.4</text>
<rect x="928" y="248" width="10" height="1" fill="#ff0000" shape-rendering="crispEdges"/>
<rect x="866.5" y="239.5" width="61" height="18" fill="#fff" stroke="#ff0000" stroke-width="1" shape-rendering="crispEdges"/>
<text x="868.5" y="255" font-size="16" fill="#ff0000" textLength="58.5" lengthAdjust="spacingAndGlyphs">27532.1</text>
<rect x="1168" y="202" width="10" height="1" fill="#ff0000" shape-rendering="crispEdges"/>
<rect x="1106.5" y="193.5" width="61" height="18" fill="#fff" stroke="#ff0000" stroke-width="1" shape-rendering="crispEdges"/>
<text x="1108.5" y="209" font-size="16" fill="#ff0000" textLength="58.5" lengthAdjust="spacingAndGlyphs">28271.1</text>
<rect x="1256" y="76" width="10" height="1" fill="#ff0000" shape-rendering="crispEdges"/>
<rect x="1194.5" y="67.5" width="61" height="18" fill="#fff" stroke="#ff0000" stroke-width="1" shape-rendering="crispEdges"/>
<text x="1196.5" y="83" font-size="16" fill="#ff0000" textLength="58.5" lengthAdjust="spacingAndGlyphs">30295.6</text>
<rect x="1296" y="213" width="10" height="1" fill="#ff0000" shape-rendering="crispEdges"/>
<rect x="1234.5" y="204.5" width="61" height="18" fill="#fff" stroke="#ff0000" stroke-width="1" shape-rendering="crispEdges"/>
<text x="1236.5" y="220" font-size="16" fill="#ff0000" textLength="58.5" lengthAdjust="spacingAndGlyphs">28094.4</text>
<rect x="1376" y="78" width="10" height="1" fill="#ff0000" shape-rendering="crispEdges"/>
<rect x="1314.5" y="69.5" width="61" height="18" fill="#fff" stroke="#ff0000" stroke-width="1" shape-rendering="crispEdges"/>
<text x="1316.5" y="85" font-size="16" fill="#ff0000" textLength="58.5" lengthAdjust="spacingAndGlyphs">30263.4</text>
</g>
<rect x="1307" y="105" width="133" height="7" fill="#00ff00" shape-rendering="crispEdges"/>
<text x="1451" y="125" font-size="21" fill="#00ff00" font-family='"Noto Sans CJK SC", sans-serif' font-weight="300" textLength="106" lengthAdjust="spacingAndGlyphs">多空转折点</text>
<g shape-rendering="crispEdges">
<line x1="1060.0" y1="57.0" x2="1170.1" y2="193.4" stroke="#ff0000" stroke-width="3.5"/>
<polygon points="1175.0,199.5 1162.2,193.2 1171.5,185.6" fill="#ff0000"/>
<line x1="1175.0" y1="199.5" x2="1262.3" y2="85.2" stroke="#ff0000" stroke-width="3.5"/>
<polygon points="1267.0,79.0 1263.9,93.0 1254.3,85.7" fill="#ff0000"/>
<line x1="1267.0" y1="79.0" x2="1309.9" y2="197.7" stroke="#ff0000" stroke-width="3.5"/>
<polygon points="1312.5,205.0 1302.4,194.8 1313.7,190.7" fill="#ff0000"/>
<line x1="1312.5" y1="205.0" x2="1382.5" y2="85.7" stroke="#ff0000" stroke-width="3.5"/>
<polygon points="1386.5,79.0 1385.1,93.2 1374.7,87.2" fill="#ff0000"/>
<line x1="1386.5" y1="79.0" x2="1411.9" y2="120.4" stroke="#ff0000" stroke-width="3.5"/>
<polygon points="1416.0,127.0 1404.1,119.1 1414.3,112.8" fill="#ff0000"/>
</g>
<polygon points="1421,25 1430.5,25 1425.75,30" fill="#c0c0c0"/>
<g font-family='"Liberation Sans", sans-serif'>
<rect x="0" y="43" width="217" height="67" fill="#fff"/>
<rect x="-1.5" y="44.5" width="49" height="25" fill="url(#gtop)" stroke="#b00000"/>
<rect x="0" y="67" width="45" height="1" fill="#900000"/><rect x="0" y="68" width="45" height="1" fill="#f07070"/>
<text x="8.5" y="60" font-size="12.5" fill="#fff" textLength="25.5" lengthAdjust="spacingAndGlyphs">SELL</text>
<rect x="163.5" y="44.5" width="51" height="25" fill="url(#gtop)" stroke="#b00000"/>
<rect x="167" y="67" width="44" height="1" fill="#900000"/><rect x="167" y="68" width="44" height="1" fill="#f07070"/>
<text x="176.7" y="60" font-size="12.5" fill="#fff" textLength="23" lengthAdjust="spacingAndGlyphs">BUY</text>
<rect x="50.5" y="44.5" width="110" height="21" fill="#fff" stroke="#a6abb8"/>
<rect x="51" y="45" width="20" height="20" fill="#fafafa"/><rect x="52" y="46" width="18" height="18" fill="url(#gbtn)"/><rect x="71" y="45" width="1" height="20" fill="#a6abb8"/>
<rect x="140" y="45" width="20" height="20" fill="#fafafa"/><rect x="141" y="46" width="18" height="18" fill="url(#gbtn)"/><rect x="139" y="45" width="1" height="20" fill="#a6abb8"/>
<polygon points="58.5,53 63.5,53 61,56" fill="#5a6ac8"/>
<polygon points="147.5,56 152.5,56 150,53" fill="#5a6ac8"/>
<text x="112.6" y="58.7" font-size="11.5" fill="#000" textLength="23" lengthAdjust="spacingAndGlyphs">1.00</text>
<rect x="-1.5" y="68.5" width="106" height="39" fill="url(#gbot)" stroke="#a00000"/>
<rect x="107.5" y="68.5" width="107" height="39" fill="url(#gbot)" stroke="#a00000"/>
<rect x="0" y="67" width="47" height="3" fill="url(#gtop)"/>
<rect x="164" y="67" width="50" height="3" fill="url(#gtop)"/>
<rect x="0" y="67" width="45" height="1" fill="#900000"/><rect x="167" y="67" width="44" height="1" fill="#900000"/>
<text x="12.2" y="98.8" font-size="12" font-weight="bold" fill="#fff" textLength="34.4" lengthAdjust="spacingAndGlyphs">29731</text>
<circle cx="53.3" cy="97" r="2.2" fill="#fff"/>
<text x="57" y="99.2" font-size="36" fill="#fff" font-family='"Liberation Serif", serif' textLength="17" lengthAdjust="spacingAndGlyphs">0</text>
<text x="122.1" y="98.8" font-size="12" font-weight="bold" fill="#fff" textLength="34.8" lengthAdjust="spacingAndGlyphs">29754</text>
<circle cx="164.3" cy="97" r="2.2" fill="#fff"/>
<text x="168" y="99.2" font-size="36" fill="#fff" font-family='"Liberation Serif", serif' textLength="17" lengthAdjust="spacingAndGlyphs">0</text>
</g>
<g font-family='"Liberation Sans", sans-serif' font-size="10" fill="#000">
<polygon points="0,32 3,35 0,35" fill="#000"/>
<text x="8" y="36" textLength="60" lengthAdjust="spacingAndGlyphs">JPN225-,Daily</text>
<text x="73.5" y="36" textLength="141" lengthAdjust="spacingAndGlyphs">29652.5 29737.5 29502.5 29732.5</text>
<text x="-3" y="592" textLength="122.5" lengthAdjust="spacingAndGlyphs">MACD(12,26,9) 146.09 86.92</text>
<text x="-2" y="764" textLength="67" lengthAdjust="spacingAndGlyphs">RSI(14) 53.6444</text>
</g>
<g shape-rendering="crispEdges">
<rect x="1" y="700" width="1" height="16" fill="#c0c0c0"/>
<rect x="9" y="700" width="1" height="16" fill="#c0c0c0"/>
<rect x="17" y="700" width="1" height="16" fill="#c0c0c0"/>
<rect x="25" y="702" width="1" height="14" fill="#c0c0c0"/>
<rect x="33" y="704" width="1" height="12" fill="#c0c0c0"/>
<rect x="41" y="706" width="1" height="10" fill="#c0c0c0"/>
<rect x="49" y="713" width="1" height="3" fill="#c0c0c0"/>
<rect x="57" y="714" width="1" height="2" fill="#c0c0c0"/>
<rect x="65" y="715" width="1" height="1" fill="#c0c0c0"/>
<rect x="73" y="715" width="1" height="1" fill="#c0c0c0"/>
<rect x="81" y="714" width="1" height="2" fill="#c0c0c0"/>
<rect x="89" y="713" width="1" height="3" fill="#c0c0c0"/>
<rect x="97" y="709" width="1" height="7" fill="#c0c0c0"/>
<rect x="105" y="705" width="1" height="11" fill="#c0c0c0"/>
<rect x="113" y="704" width="1" height="12" fill="#c0c0c0"/>
<rect x="121" y="704" width="1" height="12" fill="#c0c0c0"/>
<rect x="129" y="706" width="1" height="10" fill="#c0c0c0"/>
<rect x="137" y="706" width="1" height="10" fill="#c0c0c0"/>
<rect x="145" y="704" width="1" height="12" fill="#c0c0c0"/>
<rect x="153" y="705" width="1" height="11" fill="#c0c0c0"/>
<rect x="161" y="702" width="1" height="14" fill="#c0c0c0"/>
<rect x="169" y="697" width="1" height="19" fill="#c0c0c0"/>
<rect x="177" y="695" width="1" height="21" fill="#c0c0c0"/>
<rect x="185" y="695" width="1" height="21" fill="#c0c0c0"/>
<rect x="193" y="693" width="1" height="23" fill="#c0c0c0"/>
<rect x="201" y="693" width="1" height="23" fill="#c0c0c0"/>
<rect x="209" y="694" width="1" height="22" fill="#c0c0c0"/>
<rect x="217" y="696" width="1" height="20" fill="#c0c0c0"/>
<rect x="225" y="696" width="1" height="20" fill="#c0c0c0"/>
<rect x="233" y="697" width="1" height="19" fill="#c0c0c0"/>
<rect x="241" y="697" width="1" height="19" fill="#c0c0c0"/>
<rect x="249" y="697" width="1" height="19" fill="#c0c0c0"/>
<rect x="257" y="698" width="1" height="18" fill="#c0c0c0"/>
<rect x="265" y="699" width="1" height="17" fill="#c0c0c0"/>
<rect x="273" y="700" width="1" height="16" fill="#c0c0c0"/>
<rect x="281" y="702" width="1" height="14" fill="#c0c0c0"/>
<rect x="289" y="705" width="1" height="11" fill="#c0c0c0"/>
<rect x="297" y="708" width="1" height="8" fill="#c0c0c0"/>
<rect x="305" y="713" width="1" height="3" fill="#c0c0c0"/>
<rect x="313" y="715" width="1" height="1" fill="#c0c0c0"/>
<rect x="321" y="715" width="1" height="5" fill="#c0c0c0"/>
<rect x="329" y="715" width="1" height="9" fill="#c0c0c0"/>
<rect x="337" y="715" width="1" height="6" fill="#c0c0c0"/>
<rect x="345" y="713" width="1" height="3" fill="#c0c0c0"/>
<rect x="353" y="706" width="1" height="10" fill="#c0c0c0"/>
<rect x="361" y="697" width="1" height="19" fill="#c0c0c0"/>
<rect x="369" y="686" width="1" height="30" fill="#c0c0c0"/>
<rect x="377" y="676" width="1" height="40" fill="#c0c0c0"/>
<rect x="385" y="658" width="1" height="58" fill="#c0c0c0"/>
<rect x="393" y="645" width="1" height="71" fill="#c0c0c0"/>
<rect x="401" y="632" width="1" height="84" fill="#c0c0c0"/>
<rect x="409" y="624" width="1" height="92" fill="#c0c0c0"/>
<rect x="417" y="615" width="1" height="101" fill="#c0c0c0"/>
<rect x="425" y="608" width="1" height="108" fill="#c0c0c0"/>
<rect x="433" y="598" width="1" height="118" fill="#c0c0c0"/>
<rect x="441" y="595" width="1" height="121" fill="#c0c0c0"/>
<rect x="449" y="597" width="1" height="119" fill="#c0c0c0"/>
<rect x="457" y="603" width="1" height="113" fill="#c0c0c0"/>
<rect x="465" y="605" width="1" height="111" fill="#c0c0c0"/>
<rect x="473" y="608" width="1" height="108" fill="#c0c0c0"/>
<rect x="481" y="608" width="1" height="108" fill="#c0c0c0"/>
<rect x="489" y="600" width="1" height="116" fill="#c0c0c0"/>
<rect x="497" y="600" width="1" height="116" fill="#c0c0c0"/>
<rect x="505" y="598" width="1" height="118" fill="#c0c0c0"/>
<rect x="513" y="593" width="1" height="123" fill="#c0c0c0"/>
<rect x="521" y="589" width="1" height="127" fill="#c0c0c0"/>
<rect x="529" y="592" width="1" height="124" fill="#c0c0c0"/>
<rect x="537" y="591" width="1" height="125" fill="#c0c0c0"/>
<rect x="545" y="593" width="1" height="123" fill="#c0c0c0"/>
<rect x="553" y="597" width="1" height="119" fill="#c0c0c0"/>
<rect x="561" y="600" width="1" height="116" fill="#c0c0c0"/>
<rect x="569" y="603" width="1" height="113" fill="#c0c0c0"/>
<rect x="577" y="614" width="1" height="102" fill="#c0c0c0"/>
<rect x="585" y="622" width="1" height="94" fill="#c0c0c0"/>
<rect x="593" y="628" width="1" height="88" fill="#c0c0c0"/>
<rect x="601" y="632" width="1" height="84" fill="#c0c0c0"/>
<rect x="609" y="638" width="1" height="78" fill="#c0c0c0"/>
<rect x="617" y="643" width="1" height="73" fill="#c0c0c0"/>
<rect x="625" y="648" width="1" height="68" fill="#c0c0c0"/>
<rect x="633" y="650" width="1" height="66" fill="#c0c0c0"/>
<rect x="641" y="653" width="1" height="63" fill="#c0c0c0"/>
<rect x="649" y="657" width="1" height="59" fill="#c0c0c0"/>
<rect x="657" y="661" width="1" height="55" fill="#c0c0c0"/>
<rect x="665" y="662" width="1" height="54" fill="#c0c0c0"/>
<rect x="673" y="669" width="1" height="47" fill="#c0c0c0"/>
<rect x="681" y="674" width="1" height="42" fill="#c0c0c0"/>
<rect x="689" y="677" width="1" height="39" fill="#c0c0c0"/>
<rect x="697" y="680" width="1" height="36" fill="#c0c0c0"/>
<rect x="705" y="682" width="1" height="34" fill="#c0c0c0"/>
<rect x="713" y="684" width="1" height="32" fill="#c0c0c0"/>
<rect x="721" y="683" width="1" height="33" fill="#c0c0c0"/>
<rect x="729" y="671" width="1" height="45" fill="#c0c0c0"/>
<rect x="737" y="665" width="1" height="51" fill="#c0c0c0"/>
<rect x="745" y="660" width="1" height="56" fill="#c0c0c0"/>
<rect x="753" y="655" width="1" height="61" fill="#c0c0c0"/>
<rect x="761" y="659" width="1" height="57" fill="#c0c0c0"/>
<rect x="769" y="664" width="1" height="52" fill="#c0c0c0"/>
<rect x="777" y="664" width="1" height="52" fill="#c0c0c0"/>
<rect x="785" y="659" width="1" height="57" fill="#c0c0c0"/>
<rect x="793" y="650" width="1" height="66" fill="#c0c0c0"/>
<rect x="801" y="642" width="1" height="74" fill="#c0c0c0"/>
<rect x="809" y="640" width="1" height="76" fill="#c0c0c0"/>
<rect x="817" y="637" width="1" height="79" fill="#c0c0c0"/>
<rect x="825" y="631" width="1" height="85" fill="#c0c0c0"/>
<rect x="833" y="621" width="1" height="95" fill="#c0c0c0"/>
<rect x="841" y="621" width="1" height="95" fill="#c0c0c0"/>
<rect x="849" y="626" width="1" height="90" fill="#c0c0c0"/>
<rect x="857" y="627" width="1" height="89" fill="#c0c0c0"/>
<rect x="865" y="623" width="1" height="93" fill="#c0c0c0"/>
<rect x="873" y="622" width="1" height="94" fill="#c0c0c0"/>
<rect x="881" y="625" width="1" height="91" fill="#c0c0c0"/>
<rect x="889" y="627" width="1" height="89" fill="#c0c0c0"/>
<rect x="897" y="629" width="1" height="87" fill="#c0c0c0"/>
<rect x="905" y="631" width="1" height="85" fill="#c0c0c0"/>
<rect x="913" y="634" width="1" height="82" fill="#c0c0c0"/>
<rect x="921" y="650" width="1" height="66" fill="#c0c0c0"/>
<rect x="929" y="656" width="1" height="60" fill="#c0c0c0"/>
<rect x="937" y="668" width="1" height="48" fill="#c0c0c0"/>
<rect x="945" y="682" width="1" height="34" fill="#c0c0c0"/>
<rect x="953" y="684" width="1" height="32" fill="#c0c0c0"/>
<rect x="961" y="682" width="1" height="34" fill="#c0c0c0"/>
<rect x="969" y="680" width="1" height="36" fill="#c0c0c0"/>
<rect x="977" y="678" width="1" height="38" fill="#c0c0c0"/>
<rect x="985" y="674" width="1" height="42" fill="#c0c0c0"/>
<rect x="993" y="671" width="1" height="45" fill="#c0c0c0"/>
<rect x="1001" y="659" width="1" height="57" fill="#c0c0c0"/>
<rect x="1009" y="652" width="1" height="64" fill="#c0c0c0"/>
<rect x="1017" y="648" width="1" height="68" fill="#c0c0c0"/>
<rect x="1025" y="641" width="1" height="75" fill="#c0c0c0"/>
<rect x="1033" y="638" width="1" height="78" fill="#c0c0c0"/>
<rect x="1041" y="634" width="1" height="82" fill="#c0c0c0"/>
<rect x="1049" y="625" width="1" height="91" fill="#c0c0c0"/>
<rect x="1057" y="616" width="1" height="100" fill="#c0c0c0"/>
<rect x="1065" y="611" width="1" height="105" fill="#c0c0c0"/>
<rect x="1073" y="613" width="1" height="103" fill="#c0c0c0"/>
<rect x="1081" y="613" width="1" height="103" fill="#c0c0c0"/>
<rect x="1089" y="612" width="1" height="104" fill="#c0c0c0"/>
<rect x="1097" y="617" width="1" height="99" fill="#c0c0c0"/>
<rect x="1105" y="623" width="1" height="93" fill="#c0c0c0"/>
<rect x="1113" y="624" width="1" height="92" fill="#c0c0c0"/>
<rect x="1121" y="636" width="1" height="80" fill="#c0c0c0"/>
<rect x="1129" y="648" width="1" height="68" fill="#c0c0c0"/>
<rect x="1137" y="656" width="1" height="60" fill="#c0c0c0"/>
<rect x="1145" y="658" width="1" height="58" fill="#c0c0c0"/>
<rect x="1153" y="667" width="1" height="49" fill="#c0c0c0"/>
<rect x="1161" y="679" width="1" height="37" fill="#c0c0c0"/>
<rect x="1169" y="696" width="1" height="20" fill="#c0c0c0"/>
<rect x="1177" y="703" width="1" height="13" fill="#c0c0c0"/>
<rect x="1185" y="706" width="1" height="10" fill="#c0c0c0"/>
<rect x="1193" y="715" width="1" height="3" fill="#c0c0c0"/>
<rect x="1201" y="715" width="1" height="8" fill="#c0c0c0"/>
<rect x="1209" y="715" width="1" height="13" fill="#c0c0c0"/>
<rect x="1217" y="715" width="1" height="13" fill="#c0c0c0"/>
<rect x="1225" y="715" width="1" height="8" fill="#c0c0c0"/>
<rect x="1233" y="715" width="1" height="2" fill="#c0c0c0"/>
<rect x="1241" y="712" width="1" height="4" fill="#c0c0c0"/>
<rect x="1249" y="708" width="1" height="8" fill="#c0c0c0"/>
<rect x="1257" y="700" width="1" height="16" fill="#c0c0c0"/>
<rect x="1265" y="698" width="1" height="18" fill="#c0c0c0"/>
<rect x="1273" y="702" width="1" height="14" fill="#c0c0c0"/>
<rect x="1281" y="708" width="1" height="8" fill="#c0c0c0"/>
<rect x="1289" y="712" width="1" height="4" fill="#c0c0c0"/>
<rect x="1297" y="715" width="1" height="11" fill="#c0c0c0"/>
<rect x="1305" y="715" width="1" height="25" fill="#c0c0c0"/>
<rect x="1313" y="715" width="1" height="27" fill="#c0c0c0"/>
<rect x="1321" y="715" width="1" height="19" fill="#c0c0c0"/>
<rect x="1329" y="715" width="1" height="15" fill="#c0c0c0"/>
<rect x="1337" y="715" width="1" height="11" fill="#c0c0c0"/>
<rect x="1345" y="715" width="1" height="9" fill="#c0c0c0"/>
<rect x="1353" y="715" width="1" height="5" fill="#c0c0c0"/>
<rect x="1361" y="712" width="1" height="4" fill="#c0c0c0"/>
<rect x="1369" y="702" width="1" height="14" fill="#c0c0c0"/>
<rect x="1377" y="693" width="1" height="23" fill="#c0c0c0"/>
<rect x="1385" y="684" width="1" height="32" fill="#c0c0c0"/>
<rect x="1393" y="684" width="1" height="32" fill="#c0c0c0"/>
<rect x="1401" y="686" width="1" height="30" fill="#c0c0c0"/>
<rect x="1409" y="687" width="1" height="29" fill="#c0c0c0"/>
<polyline points="-7,698.6 1.5,698.6 9.5,699.3 17.5,699.9 25.5,700.5 33.5,701.2 41.5,702.0 49.5,703.3 57.5,704.6 65.5,705.9 73.5,707.7 81.5,709.3 89.5,710.7 97.5,711.4 105.5,711.5 113.5,711.2 121.5,710.2 129.5,709.3 137.5,708.3 145.5,707.1 153.5,706.0 161.5,704.9 169.5,703.6 177.5,702.6 185.5,701.6 193.5,700.4 201.5,699.0 209.5,697.7 217.5,696.7 225.5,695.8 233.5,695.2 241.5,695.1 249.5,695.3 257.5,695.7 265.5,696.4 273.5,697.2 281.5,698.0 289.5,699.0 297.5,700.3 305.5,702.1 313.5,704.1 321.5,706.6 329.5,709.3 337.5,711.6 345.5,713.0 353.5,713.5 361.5,712.6 369.5,710.2 377.5,706.1 385.5,699.6 393.5,691.4 401.5,681.3 409.5,670.6 417.5,659.7 425.5,648.8 433.5,637.9 441.5,627.7 449.5,619.0 457.5,612.9 465.5,608.5 473.5,605.8 481.5,604.1 489.5,602.5 497.5,601.5 505.5,601.5 513.5,601.3 521.5,600.4 529.5,599.2 537.5,597.6 545.5,595.9 553.5,594.7 561.5,594.7 569.5,595.1 577.5,596.9 585.5,600.2 593.5,604.4 601.5,608.9 609.5,614.2 617.5,619.8 625.5,625.4 633.5,630.9 641.5,636.5 649.5,641.3 657.5,645.6 665.5,649.5 673.5,653.6 681.5,657.5 689.5,661.2 697.5,664.7 705.5,668.2 713.5,671.7 721.5,674.5 729.5,675.7 737.5,676.0 745.5,675.0 753.5,672.9 761.5,671.0 769.5,669.3 777.5,667.2 785.5,664.4 793.5,660.8 801.5,657.6 809.5,654.7 817.5,652.2 825.5,649.5 833.5,645.3 841.5,640.5 849.5,636.3 857.5,632.7 865.5,629.7 873.5,627.4 881.5,625.8 889.5,624.7 897.5,624.5 905.5,625.6 913.5,627.1 921.5,629.8 929.5,633.0 937.5,638.1 945.5,644.7 953.5,651.3 961.5,657.4 969.5,663.1 977.5,668.3 985.5,672.7 993.5,675.1 1001.5,675.4 1009.5,673.6 1017.5,669.8 1025.5,665.1 1033.5,660.2 1041.5,655.0 1049.5,649.2 1057.5,642.7 1065.5,636.0 1073.5,631.0 1081.5,626.6 1089.5,622.6 1097.5,619.9 1105.5,618.3 1113.5,617.2 1121.5,618.4 1129.5,622.0 1137.5,627.0 1145.5,632.0 1153.5,638.0 1161.5,645.4 1169.5,654.1 1177.5,663.0 1185.5,672.1 1193.5,681.1 1201.5,689.2 1209.5,697.1 1217.5,704.8 1225.5,710.9 1233.5,715.0 1241.5,716.8 1249.5,717.4 1257.5,716.8 1265.5,714.7 1273.5,712.5 1281.5,710.4 1289.5,708.7 1297.5,709.0 1305.5,711.6 1313.5,714.9 1321.5,717.7 1329.5,720.9 1337.5,723.8 1345.5,726.1 1353.5,727.3 1361.5,727.3 1369.5,724.7 1377.5,719.6 1385.5,713.3 1393.5,707.8 1401.5,703.0 1409.5,698.9" fill="none" stroke="#ff0000" stroke-width="1" stroke-dasharray="3 3"/>
</g>
<g shape-rendering="crispEdges">
<line x1="0" y1="787.5" x2="1680" y2="787.5" stroke="#c0c0c0" stroke-width="1" stroke-dasharray="3 3"/>
<line x1="0" y1="838.5" x2="1680" y2="838.5" stroke="#c0c0c0" stroke-width="1" stroke-dasharray="3 3"/>
<line x1="0" y1="899.5" x2="1680" y2="899.5" stroke="#c0c0c0" stroke-width="1" stroke-dasharray="3 3"/>
<polyline points="-7,829.5 1.5,829.5 9.5,830.3 17.5,830.9 25.5,835.2 33.5,839.2 41.5,838.5 49.5,853.2 57.5,839.3 65.5,841.1 73.5,839.2 81.5,834.6 89.5,832.6 97.5,823.7 105.5,821.1 113.5,830.0 121.5,831.2 129.5,839.1 137.5,834.8 145.5,827.3 153.5,835.5 161.5,824.8 169.5,816.3 177.5,824.8 185.5,825.7 193.5,822.2 201.5,829.0 209.5,829.5 217.5,831.1 225.5,829.3 233.5,828.4 241.5,825.7 249.5,824.5 257.5,831.9 265.5,831.4 273.5,830.3 281.5,833.0 289.5,843.2 297.5,845.6 305.5,859.4 313.5,848.2 321.5,855.2 329.5,859.8 337.5,831.9 345.5,818.8 353.5,814.0 361.5,805.5 369.5,799.6 377.5,795.4 385.5,784.0 393.5,787.0 401.5,783.6 409.5,786.9 417.5,783.7 425.5,782.7 433.5,778.0 441.5,790.7 449.5,803.6 457.5,811.0 465.5,805.8 473.5,805.8 481.5,800.6 489.5,791.5 497.5,803.4 505.5,799.7 513.5,795.2 521.5,794.7 529.5,803.8 537.5,799.4 545.5,804.4 553.5,807.3 561.5,804.8 569.5,803.7 577.5,824.4 585.5,822.2 593.5,818.7 601.5,816.7 609.5,824.0 617.5,821.1 625.5,822.5 633.5,817.5 641.5,819.5 649.5,820.3 657.5,823.1 665.5,818.1 673.5,832.3 681.5,831.5 689.5,828.2 697.5,828.2 705.5,826.8 713.5,828.0 721.5,815.9 729.5,797.4 737.5,804.0 745.5,802.8 753.5,800.8 761.5,827.0 769.5,828.3 777.5,818.6 785.5,810.3 793.5,801.2 801.5,800.9 809.5,806.7 817.5,804.6 825.5,798.8 833.5,791.9 841.5,811.6 849.5,820.4 857.5,815.0 865.5,807.5 873.5,811.6 881.5,816.8 889.5,815.6 897.5,813.7 905.5,814.9 913.5,814.9 921.5,843.7 929.5,831.9 937.5,843.8 945.5,848.9 953.5,833.8 961.5,829.1 969.5,827.1 977.5,825.3 985.5,822.8 993.5,820.9 1001.5,808.3 1009.5,812.8 1017.5,814.4 1025.5,808.7 1033.5,811.9 1041.5,809.3 1049.5,801.0 1057.5,799.0 1065.5,799.2 1073.5,813.3 1081.5,808.7 1089.5,807.5 1097.5,818.7 1105.5,818.7 1113.5,813.4 1121.5,833.5 1129.5,839.0 1137.5,834.2 1145.5,826.0 1153.5,837.9 1161.5,846.4 1169.5,855.6 1177.5,844.9 1185.5,840.3 1193.5,851.9 1201.5,846.4 1209.5,849.0 1217.5,841.1 1225.5,834.4 1233.5,831.1 1241.5,832.6 1249.5,831.5 1257.5,824.0 1265.5,831.5 1273.5,841.3 1281.5,845.4 1289.5,844.2 1297.5,858.1 1305.5,863.1 1313.5,846.4 1321.5,834.6 1329.5,836.7 1337.5,836.0 1345.5,838.7 1353.5,834.9 1361.5,828.4 1369.5,822.9 1377.5,820.9 1385.5,818.5 1393.5,829.5 1401.5,835.4 1409.5,833.1" fill="none" stroke="#1e90ff" stroke-width="1"/>
</g>
<g shape-rendering="crispEdges" fill="#000">
<rect x="0" y="24" width="1681" height="1"/>
<rect x="0" y="577" width="1681" height="1"/>
<rect x="0" y="579" width="1681" height="1"/>
<rect x="0" y="749" width="1681" height="1"/>
<rect x="0" y="751" width="1681" height="1"/>
<rect x="0" y="925" width="1681" height="1"/>
<rect x="1680" y="24" width="1" height="554"/>
<rect x="1680" y="579" width="1" height="171"/>
<rect x="1680" y="751" width="1" height="175"/>
</g>
<g font-family='"Liberation Sans", sans-serif' font-size="10" fill="#000">
<rect x="1681" y="46" width="3" height="1" shape-rendering="crispEdges"/>
<text x="1686" y="50" textLength="33" lengthAdjust="spacingAndGlyphs">30790.0</text>
<rect x="1681" y="79" width="3" height="1" shape-rendering="crispEdges"/>
<text x="1686" y="83" textLength="33" lengthAdjust="spacingAndGlyphs">30262.0</text>
<rect x="1681" y="112" width="3" height="1" shape-rendering="crispEdges"/>
<text x="1686" y="116" textLength="33" lengthAdjust="spacingAndGlyphs">29734.0</text>
<rect x="1681" y="145" width="3" height="1" shape-rendering="crispEdges"/>
<text x="1686" y="149" textLength="33" lengthAdjust="spacingAndGlyphs">29190.0</text>
<rect x="1681" y="178" width="3" height="1" shape-rendering="crispEdges"/>
<text x="1686" y="182" textLength="33" lengthAdjust="spacingAndGlyphs">28662.0</text>
<rect x="1681" y="211" width="3" height="1" shape-rendering="crispEdges"/>
<text x="1686" y="215" textLength="33" lengthAdjust="spacingAndGlyphs">28134.0</text>
<rect x="1681" y="244" width="3" height="1" shape-rendering="crispEdges"/>
<text x="1686" y="248" textLength="33" lengthAdjust="spacingAndGlyphs">27590.0</text>
<rect x="1681" y="277" width="3" height="1" shape-rendering="crispEdges"/>
<text x="1686" y="281" textLength="33" lengthAdjust="spacingAndGlyphs">27062.0</text>
<rect x="1681" y="310" width="3" height="1" shape-rendering="crispEdges"/>
<text x="1686" y="314" textLength="33" lengthAdjust="spacingAndGlyphs">26534.0</text>
<rect x="1681" y="343" width="3" height="1" shape-rendering="crispEdges"/>
<text x="1686" y="347" textLength="33" lengthAdjust="spacingAndGlyphs">26006.0</text>
<rect x="1681" y="376" width="3" height="1" shape-rendering="crispEdges"/>
<text x="1686" y="380" textLength="33" lengthAdjust="spacingAndGlyphs">25478.0</text>
<rect x="1681" y="409" width="3" height="1" shape-rendering="crispEdges"/>
<text x="1686" y="413" textLength="33" lengthAdjust="spacingAndGlyphs">24950.0</text>
<rect x="1681" y="442" width="3" height="1" shape-rendering="crispEdges"/>
<text x="1686" y="446" textLength="33" lengthAdjust="spacingAndGlyphs">24406.0</text>
<rect x="1681" y="475" width="3" height="1" shape-rendering="crispEdges"/>
<text x="1686" y="479" textLength="33" lengthAdjust="spacingAndGlyphs">23878.0</text>
<rect x="1681" y="508" width="3" height="1" shape-rendering="crispEdges"/>
<text x="1686" y="512" textLength="33" lengthAdjust="spacingAndGlyphs">23350.0</text>
<rect x="1681" y="541" width="3" height="1" shape-rendering="crispEdges"/>
<text x="1686" y="545" textLength="33" lengthAdjust="spacingAndGlyphs">22822.0</text>
<rect x="1681" y="574" width="3" height="1" shape-rendering="crispEdges"/>
<text x="1686" y="578" textLength="33" lengthAdjust="spacingAndGlyphs">22294.0</text>
<rect x="1682" y="106" width="41" height="11" fill="#000000" shape-rendering="crispEdges"/>
<text x="1686" y="116" fill="#fff" textLength="33" lengthAdjust="spacingAndGlyphs">29732.5</text>
<rect x="1682" y="70" width="41" height="11" fill="#ff0000" shape-rendering="crispEdges"/>
<text x="1686" y="80" fill="#fff" textLength="33" lengthAdjust="spacingAndGlyphs">30295.6</text>
<rect x="1682" y="88" width="41" height="11" fill="#ff0000" shape-rendering="crispEdges"/>
<text x="1686" y="98" fill="#fff" textLength="33" lengthAdjust="spacingAndGlyphs">30006.4</text>
<rect x="1682" y="103" width="41" height="11" fill="#32cd32" shape-rendering="crispEdges"/>
<text x="1686" y="113" fill="#fff" textLength="33" lengthAdjust="spacingAndGlyphs">29765.4</text>
<rect x="1682" y="131" width="41" height="11" fill="#0000ff" shape-rendering="crispEdges"/>
<text x="1686" y="141" fill="#fff" textLength="33" lengthAdjust="spacingAndGlyphs">29315.5</text>
<rect x="1682" y="149" width="41" height="11" fill="#0000ff" shape-rendering="crispEdges"/>
<text x="1686" y="159" fill="#fff" textLength="33" lengthAdjust="spacingAndGlyphs">29026.3</text>
<rect x="1681" y="581" width="3" height="1" shape-rendering="crispEdges"/><text x="1684" y="590" textLength="29" lengthAdjust="spacingAndGlyphs">719.45</text>
<rect x="1681" y="715" width="3" height="1" shape-rendering="crispEdges"/><text x="1684" y="719" textLength="19" lengthAdjust="spacingAndGlyphs">0.00</text>
<rect x="1681" y="748" width="3" height="1" shape-rendering="crispEdges"/><text x="1684" y="746" textLength="32" lengthAdjust="spacingAndGlyphs">-176.67</text>
<rect x="1681" y="753" width="3" height="1" shape-rendering="crispEdges"/><text x="1684" y="762" textLength="15" lengthAdjust="spacingAndGlyphs">100</text>
<text x="1683" y="791" textLength="10" lengthAdjust="spacingAndGlyphs">80</text>
<text x="1683" y="842" textLength="10" lengthAdjust="spacingAndGlyphs">50</text>
<text x="1683" y="903" textLength="10" lengthAdjust="spacingAndGlyphs">15</text>
<rect x="1681" y="924" width="3" height="1" shape-rendering="crispEdges"/><text x="1684" y="922" textLength="5" lengthAdjust="spacingAndGlyphs">0</text>
<rect x="-7" y="926" width="1" height="3" shape-rendering="crispEdges"/>
<text x="-7" y="938" textLength="51" lengthAdjust="spacingAndGlyphs">13 Sep 2020</text>
<rect x="57" y="926" width="1" height="3" shape-rendering="crispEdges"/>
<text x="57" y="938" textLength="51" lengthAdjust="spacingAndGlyphs">22 Sep 2020</text>
<rect x="121" y="926" width="1" height="3" shape-rendering="crispEdges"/>
<text x="121" y="938" textLength="45" lengthAdjust="spacingAndGlyphs">1 Oct 2020</text>
<rect x="185" y="926" width="1" height="3" shape-rendering="crispEdges"/>
<text x="185" y="938" textLength="50" lengthAdjust="spacingAndGlyphs">11 Oct 2020</text>
<rect x="249" y="926" width="1" height="3" shape-rendering="crispEdges"/>
<text x="249" y="938" textLength="50" lengthAdjust="spacingAndGlyphs">20 Oct 2020</text>
<rect x="313" y="926" width="1" height="3" shape-rendering="crispEdges"/>
<text x="313" y="938" textLength="50" lengthAdjust="spacingAndGlyphs">29 Oct 2020</text>
<rect x="377" y="926" width="1" height="3" shape-rendering="crispEdges"/>
<text x="377" y="938" textLength="47" lengthAdjust="spacingAndGlyphs">8 Nov 2020</text>
<rect x="441" y="926" width="1" height="3" shape-rendering="crispEdges"/>
<text x="441" y="938" textLength="52" lengthAdjust="spacingAndGlyphs">17 Nov 2020</text>
<rect x="505" y="926" width="1" height="3" shape-rendering="crispEdges"/>
<text x="505" y="938" textLength="52" lengthAdjust="spacingAndGlyphs">26 Nov 2020</text>
<rect x="569" y="926" width="1" height="3" shape-rendering="crispEdges"/>
<text x="569" y="938" textLength="46" lengthAdjust="spacingAndGlyphs">6 Dec 2020</text>
<rect x="633" y="926" width="1" height="3" shape-rendering="crispEdges"/>
<text x="633" y="938" textLength="51" lengthAdjust="spacingAndGlyphs">15 Dec 2020</text>
<rect x="697" y="926" width="1" height="3" shape-rendering="crispEdges"/>
<text x="697" y="938" textLength="51" lengthAdjust="spacingAndGlyphs">24 Dec 2020</text>
<rect x="761" y="926" width="1" height="3" shape-rendering="crispEdges"/>
<text x="761" y="938" textLength="45" lengthAdjust="spacingAndGlyphs">4 Jan 2021</text>
<rect x="825" y="926" width="1" height="3" shape-rendering="crispEdges"/>
<text x="825" y="938" textLength="50" lengthAdjust="spacingAndGlyphs">13 Jan 2021</text>
<rect x="889" y="926" width="1" height="3" shape-rendering="crispEdges"/>
<text x="889" y="938" textLength="50" lengthAdjust="spacingAndGlyphs">22 Jan 2021</text>
<rect x="953" y="926" width="1" height="3" shape-rendering="crispEdges"/>
<text x="953" y="938" textLength="46" lengthAdjust="spacingAndGlyphs">1 Feb 2021</text>
<rect x="1017" y="926" width="1" height="3" shape-rendering="crispEdges"/>
<text x="1017" y="938" textLength="51" lengthAdjust="spacingAndGlyphs">10 Feb 2021</text>
<rect x="1081" y="926" width="1" height="3" shape-rendering="crispEdges"/>
<text x="1081" y="938" textLength="51" lengthAdjust="spacingAndGlyphs">19 Feb 2021</text>
<rect x="1145" y="926" width="1" height="3" shape-rendering="crispEdges"/>
<text x="1145" y="938" textLength="46" lengthAdjust="spacingAndGlyphs">1 Mar 2021</text>
<rect x="1209" y="926" width="1" height="3" shape-rendering="crispEdges"/>
<text x="1209" y="938" textLength="51" lengthAdjust="spacingAndGlyphs">10 Mar 2021</text>
<rect x="1273" y="926" width="1" height="3" shape-rendering="crispEdges"/>
<text x="1273" y="938" textLength="51" lengthAdjust="spacingAndGlyphs">19 Mar 2021</text>
<rect x="1337" y="926" width="1" height="3" shape-rendering="crispEdges"/>
<text x="1337" y="938" textLength="51" lengthAdjust="spacingAndGlyphs">29 Mar 2021</text>
<rect x="1401" y="926" width="1" height="3" shape-rendering="crispEdges"/>
<text x="1401" y="938" textLength="45" lengthAdjust="spacingAndGlyphs">7 Apr 2021</text>
</g>
<rect x="1726" y="21" width="1" height="922" fill="#e2e2e2" shape-rendering="crispEdges"/>
<rect x="0" y="0" width="1727" height="20" fill="#f0f0f0"/>
<rect x="0" y="19" width="1727" height="1" fill="#f8f8f8"/>
<rect x="0" y="20" width="1727" height="1" fill="#a4a4a4"/>
<rect x="0" y="21" width="1727" height="1" fill="#6e6e6e"/>
<g id="toolbar">
<rect x="317" y="0" width="23" height="19" fill="#f6f6f6"/>
<rect x="468" y="0" width="24" height="19" fill="#f6f6f6"/>
<rect x="496" y="0" width="24" height="19" fill="#f6f6f6"/>
<rect x="656" y="0" width="24" height="19" fill="#f6f6f6"/>
<rect x="1129" y="0" width="26" height="19" fill="#f7f7f7"/><rect x="1129" y="0" width="1" height="19" fill="#b4b4b4"/>
<rect x="41" y="0" width="1" height="18" fill="#a0a0a0"/>
<rect x="277" y="0" width="1" height="18" fill="#a0a0a0"/>
<rect x="315" y="0" width="1" height="18" fill="#a0a0a0"/>
<rect x="372" y="0" width="1" height="18" fill="#a0a0a0"/>
<rect x="462" y="0" width="1" height="18" fill="#a0a0a0"/>
<rect x="467" y="0" width="1" height="18" fill="#a0a0a0"/>
<rect x="495" y="0" width="1" height="18" fill="#a0a0a0"/>
<rect x="524" y="0" width="1" height="18" fill="#a0a0a0"/>
<rect x="645" y="0" width="1" height="18" fill="#a0a0a0"/>
<rect x="655" y="0" width="1" height="18" fill="#a0a0a0"/>
<rect x="712" y="0" width="1" height="18" fill="#a0a0a0"/>
<rect x="951" y="0" width="1" height="18" fill="#a0a0a0"/>
<rect x="1212" y="0" width="1" height="18" fill="#a0a0a0"/>
<rect x="281" y="1" width="3" height="1" fill="#b0b0b0"/>
<rect x="281" y="3" width="3" height="1" fill="#b0b0b0"/>
<rect x="281" y="5" width="3" height="1" fill="#b0b0b0"/>
<rect x="281" y="7" width="3" height="1" fill="#b0b0b0"/>
<rect x="281" y="9" width="3" height="1" fill="#b0b0b0"/>
<rect x="281" y="11" width="3" height="1" fill="#b0b0b0"/>
<rect x="281" y="13" width="3" height="1" fill="#b0b0b0"/>
<rect x="281" y="15" width="3" height="1" fill="#b0b0b0"/>
<rect x="281" y="17" width="3" height="1" fill="#b0b0b0"/>
<rect x="650" y="1" width="3" height="1" fill="#b0b0b0"/>
<rect x="650" y="3" width="3" height="1" fill="#b0b0b0"/>
<rect x="650" y="5" width="3" height="1" fill="#b0b0b0"/>
<rect x="650" y="7" width="3" height="1" fill="#b0b0b0"/>
<rect x="650" y="9" width="3" height="1" fill="#b0b0b0"/>
<rect x="650" y="11" width="3" height="1" fill="#b0b0b0"/>
<rect x="650" y="13" width="3" height="1" fill="#b0b0b0"/>
<rect x="650" y="15" width="3" height="1" fill="#b0b0b0"/>
<rect x="650" y="17" width="3" height="1" fill="#b0b0b0"/>
<rect x="956" y="1" width="3" height="1" fill="#b0b0b0"/>
<rect x="956" y="3" width="3" height="1" fill="#b0b0b0"/>
<rect x="956" y="5" width="3" height="1" fill="#b0b0b0"/>
<rect x="956" y="7" width="3" height="1" fill="#b0b0b0"/>
<rect x="956" y="9" width="3" height="1" fill="#b0b0b0"/>
<rect x="956" y="11" width="3" height="1" fill="#b0b0b0"/>
<rect x="956" y="13" width="3" height="1" fill="#b0b0b0"/>
<rect x="956" y="15" width="3" height="1" fill="#b0b0b0"/>
<rect x="956" y="17" width="3" height="1" fill="#b0b0b0"/>
<rect x="-4" y="1" width="7.5" height="13.5" rx="1" fill="#fff" stroke="#3a78d0" stroke-width="1.2"/>
<rect x="-2" y="4" width="4" height="1" fill="#8fb3ea"/>
<rect x="-2" y="6.5" width="4" height="1" fill="#8fb3ea"/>
<rect x="-2" y="9" width="4" height="1" fill="#8fb3ea"/>
<rect x="-2" y="11.5" width="4" height="1" fill="#8fb3ea"/>
<rect x="16.5" y="0.5" width="12" height="13" fill="#fbfbfb" stroke="#b8b4a4"/>
<path d="M19.5 2 v9 M22 3 v7 M25 2 v8" stroke="#777" stroke-width="1"/>
<line x1="27.5" y1="12.5" x2="32.5" y2="17" stroke="#c89a20" stroke-width="2.6"/>
<circle cx="24.3" cy="8.8" r="5" fill="#d8e6f6" fill-opacity="0.85" stroke="#6f9ad8" stroke-width="1.2"/>
<rect x="23" y="6" width="2.5" height="5" fill="#9ab0c8"/>
<path d="M51.5 1.5 h7.5 l3.5 3.5 v8.5 h-11 z" fill="#fafafa" stroke="#8a8a8a"/>
<path d="M53 4 h3 M53 7.5 h6 M53 10 h5" stroke="#909090" stroke-width="1"/>
<path d="M59.5 6 h3.4 v3.4 h3.4 v3.4 h-3.4 v3.4 h-3.4 v-3.4 h-3.4 v-3.4 h3.4 z" fill="#2ecc2e" stroke="#129a12" stroke-width="0.8"/>
<text x="70" y="11.5" font-family='"Liberation Sans", "Noto Sans CJK SC", sans-serif' font-size="12" fill="#000" textLength="36" lengthAdjust="spacingAndGlyphs">新订单</text>
<defs><linearGradient id="gbook" x1="0" y1="0" x2="0.3" y2="1"><stop offset="0" stop-color="#f8dc60"/><stop offset="0.6" stop-color="#e8b828"/><stop offset="1" stop-color="#c08818"/></linearGradient></defs>
<path d="M123.8 1.3 L133.6 8.6 Q134 9.6 133 10.4 L126.8 15.6 Q126 16 125.2 15.4 L118.3 10.3 Q117.8 9.6 118.4 9 Z" fill="url(#gbook)" stroke="#a87010" stroke-width="0.9"/>
<path d="M119.5 10.6 L126 15 L132.6 9.8" fill="none" stroke="#f6e6b0" stroke-width="0.8"/>
<path d="M120.3 8.6 L124.2 3" fill="none" stroke="#fff0a0" stroke-width="1"/>
<rect x="148.5" y="0" width="9" height="9" fill="#4a90e0" stroke="#2a68b8" stroke-width="0.8"/>
<rect x="150" y="3" width="6" height="1.2" fill="#fff"/><rect x="150" y="5.5" width="6" height="1" fill="#cfe2fa"/>
<path d="M148.5 15.3 h11.5 a2.4 2.4 0 0 0 0.6 -4.7 a3.6 3.6 0 0 0 -6.4 -1.8 a3 3 0 0 0 -5 1.6 a2.5 2.5 0 0 0 -0.7 4.9 z" fill="#f6f8fc" stroke="#8090b0" stroke-width="1"/>
<path d="M182 0.7999999999999998 A7.2 7.2 0 0 0 182 15.2" fill="none" stroke="#b8cff0" stroke-width="1.1"/>
<path d="M182 0.7999999999999998 A7.2 7.2 0 0 1 182 15.2" fill="none" stroke="#b8e0b8" stroke-width="1.1"/>
<path d="M182 2.8 A5.2 5.2 0 0 0 182 13.2" fill="none" stroke="#7aa4e0" stroke-width="1.1"/>
<path d="M182 2.8 A5.2 5.2 0 0 1 182 13.2" fill="none" stroke="#80c880" stroke-width="1.1"/>
<path d="M182 4.8 A3.2 3.2 0 0 0 182 11.2" fill="none" stroke="#4a7cd0" stroke-width="1.1"/>
<path d="M182 4.8 A3.2 3.2 0 0 1 182 11.2" fill="none" stroke="#50b050" stroke-width="1.1"/>
<circle cx="182" cy="8" r="1.7" fill="#2a5cc0"/><path d="M182.5 8 v7.5" stroke="#28a828" stroke-width="1.4" fill="none"/>
<path d="M202 9 L210 16 L215 11 L216 7 Z" fill="#f0d040" stroke="#c89820" stroke-width="0.8"/>
<ellipse cx="209" cy="5" rx="7.5" ry="2.8" fill="#5aa0e0" stroke="#3478c0" stroke-width="0.8"/>
<ellipse cx="209" cy="2.8" rx="3.5" ry="2.5" fill="#78b8f0"/>
<circle cx="213.3" cy="12" r="4.3" fill="#d02020" stroke="#a01010" stroke-width="0.8"/><rect x="211.6" y="10.3" width="3.4" height="3.4" fill="#fff"/>
<text x="222.5" y="11.5" font-family='"Liberation Sans", "Noto Sans CJK SC", sans-serif' font-size="12" fill="#000" textLength="47" lengthAdjust="spacingAndGlyphs">自动交易</text>
<path d="M295.5 2 v13 M293 13.5 h13" stroke="#555" stroke-width="1" fill="none"/>
<path d="M294 4 l1.5 -2 l1.5 2 M304 12 l2 1.5 l-2 1.5" stroke="#555" stroke-width="1" fill="none"/>
<path d="M298 11 h2.5 v-6.5 h2.5" stroke="#1a9a1a" stroke-width="1.4" fill="none"/>
<path d="M323.5 2 v13 M321 13.5 h13" stroke="#555" stroke-width="1" fill="none"/>
<path d="M322 4 l1.5 -2 l1.5 2 M332 12 l2 1.5 l-2 1.5" stroke="#555" stroke-width="1" fill="none"/>
<rect x="327.5" y="2.5" width="4" height="7" fill="#22cc22" stroke="#128a12" stroke-width="0.8"/><path d="M329.5 0 v12" stroke="#128a12" stroke-width="1"/>
<path d="M351.5 2 v13 M349 13.5 h13" stroke="#555" stroke-width="1" fill="none"/>
<path d="M350 4 l1.5 -2 l1.5 2 M360 12 l2 1.5 l-2 1.5" stroke="#555" stroke-width="1" fill="none"/>
<path d="M350.5 11 Q356 1 362 8.5" stroke="#1a9a1a" stroke-width="1.2" fill="none"/>
<line x1="390.3" y1="9.5" x2="396.3" y2="15.3" stroke="#c8a020" stroke-width="2.8"/>
<circle cx="386.8" cy="5.8" r="5.2" fill="#d8e8f8" stroke="#3a7ad0" stroke-width="1.4"/>
<rect x="383.8" y="5.1" width="6" height="1.6" fill="#3a7ad0"/>
<rect x="386.0" y="2.8" width="1.6" height="6" fill="#3a7ad0"/>
<line x1="418.6" y1="9.5" x2="424.6" y2="15.3" stroke="#c8a020" stroke-width="2.8"/>
<circle cx="415.1" cy="5.8" r="5.2" fill="#d8e8f8" stroke="#3a7ad0" stroke-width="1.4"/>
<rect x="412.1" y="5.1" width="6" height="1.6" fill="#3a7ad0"/>
<rect x="437" y="0" width="7.5" height="7.5" fill="#3aa03a"/>
<rect x="438.5" y="3" width="4.5" height="2.5" fill="none" stroke="#fff" stroke-width="0.9"/>
<rect x="445.5" y="0" width="7.5" height="7.5" fill="#2a5cd0"/>
<rect x="447.0" y="3" width="4.5" height="2.5" fill="none" stroke="#fff" stroke-width="0.9"/>
<rect x="437" y="8" width="7.5" height="7.5" fill="#2a5cd0"/>
<rect x="438.5" y="11" width="4.5" height="2.5" fill="none" stroke="#fff" stroke-width="0.9"/>
<rect x="445.5" y="8" width="7.5" height="7.5" fill="#3aa03a"/>
<rect x="447.0" y="11" width="4.5" height="2.5" fill="none" stroke="#fff" stroke-width="0.9"/>
<path d="M475.5 2 v13 M473 13.5 h13" stroke="#555" stroke-width="1" fill="none"/>
<path d="M474 4 l1.5 -2 l1.5 2 M484 12 l2 1.5 l-2 1.5" stroke="#555" stroke-width="1" fill="none"/>
<polygon points="480.5,4 484,7.5 480.5,11" fill="#22b822"/>
<path d="M503.5 2 v13 M501 13.5 h13" stroke="#555" stroke-width="1" fill="none"/>
<path d="M502 4 l1.5 -2 l1.5 2 M512 12 l2 1.5 l-2 1.5" stroke="#555" stroke-width="1" fill="none"/>
<rect x="509" y="2" width="1.2" height="9" fill="#2a6ab8"/><polygon points="511,7.5 515,5.5 515,9.5" fill="#e05a10"/>
<path d="M534.5 1.5 h7 l3.5 3.5 v8 h-10.5 z" fill="#fafafa" stroke="#8a8a8a"/>
<text x="536" y="10" font-family='"Liberation Serif", serif' font-style="italic" font-size="8" fill="#555">f</text>
<path d="M542 6 h3.6 v3.6 h3.6 v3.6 h-3.6 v3.6 h-3.6 v-3.6 h-3.6 v-3.6 h3.6 z" fill="#2ecc2e" stroke="#129a12" stroke-width="0.8"/>
<polygon points="555.5,7.2 561.0,7.2 558.25,10" fill="#000"/>
<polygon points="595,7.2 600.5,7.2 597.75,10" fill="#000"/>
<polygon points="633.5,7.2 639.0,7.2 636.25,10" fill="#000"/>
<rect x="578.8" y="-0.5" width="2.6" height="2" fill="#2a6ad0"/><circle cx="580" cy="8" r="7.8" fill="#1c5cc8"/><circle cx="580" cy="8" r="6.6" fill="#3a86e8"/><circle cx="580" cy="8" r="5.2" fill="#f6f8fc"/>
<path d="M579.5 4.2 v4.3 h3" stroke="#333" stroke-width="1.1" fill="none"/><circle cx="580" cy="12" r="0.6" fill="#9ab"/><circle cx="576" cy="8" r="0.5" fill="#9ab"/><circle cx="584" cy="8" r="0.5" fill="#9ab"/>
<rect x="611.5" y="1.5" width="15" height="13" fill="#fff" stroke="#2a62c8" stroke-width="1.2"/><rect x="612" y="2" width="14" height="2" fill="#4a82dc"/>
<path d="M613 8 l3 -1 l3 0.5 l3 -1.5 l3 0.5" stroke="#c03020" stroke-width="1" fill="none"/><rect x="612" y="9.5" width="14" height="0.8" fill="#a8c0e8"/>
<path d="M613 13 l3 -1.5 l3 1 l3 -2 l3 1" stroke="#20a020" stroke-width="1" fill="none"/>
<path d="M663 1.5 L663 12.5 L665.6 10 L668 15 L670 14 L667.6 9.2 L671 9 Z" fill="#444"/>
<path d="M695.5 1 v6 M695.5 10 v6 M688 8.5 h6 M697 8.5 h6" stroke="#555" stroke-width="1.2"/>
<rect x="729" y="2" width="1.4" height="13" fill="#555"/>
<rect x="752" y="7.7" width="12" height="1.4" fill="#555"/>
<line x1="780" y1="15" x2="792.5" y2="2.5" stroke="#555" stroke-width="1.3"/>
<path d="M806 12 L816 2 M808 15 L818 5" stroke="#555" stroke-width="1.1" fill="none"/>
<path d="M808 9 l2 2 M810.5 6.5 l2 2 M813 4 l2 2 M811 12 l-1 1" stroke="#555" stroke-width="1" fill="none"/>
<text x="816.3" y="17" font-family='"Liberation Sans", sans-serif' font-weight="bold" font-size="6.5" fill="#444">E</text>
<line x1="835" y1="1.5" x2="848" y2="1.5" stroke="#555" stroke-width="1" stroke-dasharray="1 1"/>
<line x1="835" y1="4.3" x2="848" y2="4.3" stroke="#555" stroke-width="1" stroke-dasharray="1 1"/>
<line x1="835" y1="8.3" x2="848" y2="8.3" stroke="#555" stroke-width="1" stroke-dasharray="1 1"/>
<line x1="835" y1="12.6" x2="848" y2="12.6" stroke="#555" stroke-width="1" stroke-dasharray="1 1"/>
<text x="845" y="17" font-family='"Liberation Sans", sans-serif' font-weight="bold" font-size="6.5" fill="#444">F</text>
<text x="865.5" y="13.2" font-family='"Liberation Sans", sans-serif' font-weight="bold" font-size="12.5" fill="#555">A</text>
<rect x="892" y="2" width="11.5" height="12.5" fill="none" stroke="#555" stroke-width="0.9" stroke-dasharray="1 1"/>
<text x="894" y="12.5" font-family='"Liberation Sans", sans-serif' font-weight="bold" font-size="11" fill="#555">T</text>
<polygon points="922.5,2 926,5 922.5,6.5 919,5" fill="#555"/><path d="M921 9.5 l2.5 2.5 l4.5 -5" stroke="#555" stroke-width="1.3" fill="none"/><polygon points="929,10.5 933,11.5 930,15 927.5,12" fill="#555"/>
<polygon points="939.8,7 945,7 942.4,9.7" fill="#000"/>
<text x="966.6" y="12" font-family='"Liberation Sans", sans-serif' font-size="9.5" fill="#333" textLength="12.8" lengthAdjust="spacingAndGlyphs">M1</text>
<text x="994.4" y="12" font-family='"Liberation Sans", sans-serif' font-size="9.5" fill="#333" textLength="12.8" lengthAdjust="spacingAndGlyphs">M5</text>
<text x="1020.6" y="12" font-family='"Liberation Sans", sans-serif' font-size="9.5" fill="#333" textLength="17.8" lengthAdjust="spacingAndGlyphs">M15</text>
<text x="1048.4" y="12" font-family='"Liberation Sans", sans-serif' font-size="9.5" fill="#333" textLength="17.8" lengthAdjust="spacingAndGlyphs">M30</text>
<text x="1079.4" y="12" font-family='"Liberation Sans", sans-serif' font-size="9.5" fill="#333" textLength="12.3" lengthAdjust="spacingAndGlyphs">H1</text>
<text x="1106.8" y="12" font-family='"Liberation Sans", sans-serif' font-size="9.5" fill="#333" textLength="12" lengthAdjust="spacingAndGlyphs">H4</text>
<text x="1135.7" y="12" font-family='"Liberation Sans", sans-serif' font-size="9.5" fill="#333" textLength="11.6" lengthAdjust="spacingAndGlyphs">D1</text>
<text x="1162.8" y="12" font-family='"Liberation Sans", sans-serif' font-size="9.5" fill="#333" textLength="14.6" lengthAdjust="spacingAndGlyphs">W1</text>
<text x="1189.7" y="12" font-family='"Liberation Sans", sans-serif' font-size="9.5" fill="#333" textLength="14.8" lengthAdjust="spacingAndGlyphs">MN</text>
<line x1="1679.5" y1="8.5" x2="1675" y2="13" stroke="#2a62d0" stroke-width="2.6" stroke-linecap="round"/>
<circle cx="1682.5" cy="5.4" r="3.8" fill="#fbfbff" stroke="#2a62d0" stroke-width="1.3"/>
<path d="M1700 10.5 a5.5 5 0 1 1 5.5 5 l-1.5 0 l-2.5 2 l0.5 -2.5 a5.5 5 0 0 1 -2 -4.5 z" fill="#e8e8f0" stroke="#a8a8a8" stroke-width="1"/>
<defs><linearGradient id="gbadge" x1="0" y1="0" x2="0" y2="1"><stop offset="0" stop-color="#e85a38"/><stop offset="1" stop-color="#d41a08"/></linearGradient></defs>
<circle cx="1713.5" cy="5.5" r="8.3" fill="url(#gbadge)"/>
<text x="1710" y="10.2" font-family='"Liberation Serif", serif' font-size="12.5" fill="#fff">1</text>
</g>
</svg>
</body></html>
